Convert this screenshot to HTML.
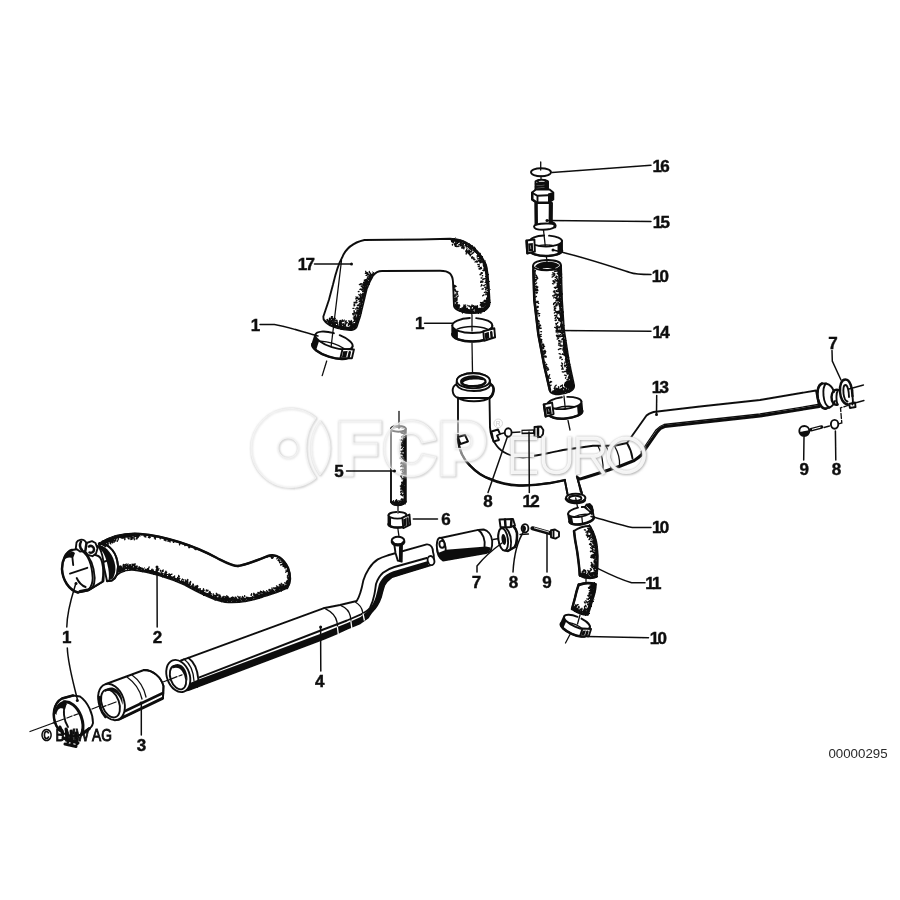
<!DOCTYPE html>
<html><head><meta charset="utf-8">
<style>
html,body{margin:0;padding:0;background:#fff;}
body{width:900px;height:900px;overflow:hidden;font-family:"Liberation Sans",sans-serif;}
svg{display:block;will-change:transform;}
.o{fill:#fff;stroke:#111;stroke-width:1.9;stroke-linejoin:round;stroke-linecap:round;}
.n{fill:none;stroke:#111;stroke-width:1.9;stroke-linejoin:round;stroke-linecap:round;}
.t{fill:none;stroke:#111;stroke-width:1.3;stroke-linecap:round;}
.k{fill:none;stroke:#111;stroke-width:3;stroke-linejoin:round;stroke-linecap:round;}
.k2{fill:none;stroke:#111;stroke-width:2.5;stroke-linejoin:round;stroke-linecap:round;}
.s{fill:none;stroke:#111;stroke-width:2.4;stroke-dasharray:1.2 1.6;}
.b{fill:#111;stroke:none;}
.l{fill:none;stroke:#111;stroke-width:1.5;stroke-linecap:round;}
.lb{font-family:"Liberation Sans",sans-serif;font-weight:bold;font-size:17px;fill:#111;stroke:#111;stroke-width:0.45;text-anchor:middle;}
</style></head><body>
<svg width="900" height="900" viewBox="0 0 900 900">
<defs>
<filter id="rough" x="-5%" y="-5%" width="110%" height="110%"><feTurbulence type="fractalNoise" baseFrequency="0.55" numOctaves="2" seed="3" result="n"/><feDisplacementMap in="SourceGraphic" in2="n" scale="3.2" xChannelSelector="R" yChannelSelector="G"/></filter>
<filter id="soft" x="0" y="0" width="100%" height="100%" filterUnits="userSpaceOnUse"><feGaussianBlur stdDeviation="0.55"/></filter>
</defs>
<rect width="900" height="900" fill="#fff"/>
<g filter="url(#soft)">
<!-- 10_lowerleft -->
<!-- axis line through ring clamp / sleeve 3 / pipe 4 -->
<path class="t" d="M30,731.500 L64,719 M67,718 L72,716 M74,715.300 L79,713.500 M92,709 L110,702 M112,701 L116,699.500 M163,682 L172,678.500 M174,677.500 L178,676"/>
<!-- hose 2 -->
<path class="o" d="M99,544 C110,537 125,533 140,534 C165,536 195,546 217,558 C225,562 232,566 238,566 C246,565 258,560 268,556 C277,553 284,560 288,568 C291,576 291,582 287,588 C280,592 270,594 262,597 C250,601 235,603 225,602 C212,600 198,592 185,585 C170,578 150,572 135,570 C125,569 117,573 112,580 Z"/>
<path class="k2" d="M99,544 C110,537 125,533 140,534 C165,536 195,546 217,558 C225,562 232,566 238,566"/>
<path class="k2" d="M238,566 C246,565 258,560 268,556 C277,553 284,560 288,568 C291,576 291,582 287,588"/>
<!-- hose end face -->
<path class="o" d="M99.500,543 C110,544 117,553 118,566 C118.500,573 116,578 112,580.500 L107,581 L100,549 Z" stroke="none"/>
<path class="n" d="M99.500,543 C110,544 117,553 118,566 C118.500,573 116,578 112,580.500 L107,581.200"/>
<path class="b" d="M99.800,545 C107,547 113.800,555 115.300,566 C115.800,571 114.800,575 112.800,578.500 L108.500,580.500 C109.500,575 108.500,569 107.500,565 C106,557 103,551 99.800,549 Z"/>
<!-- sleeve + clamp 1 (on hose 2) -->
<path class="o" d="M72,550 L98,546 C103,552 105,566 103.500,581 L88,590.500 L78,592.500 C69,590 62.500,580 62,569 C62,560 66,552 72,550 Z"/>
<path class="n" d="M103.300,562 L108.700,560.200" stroke-width="1.200"/>
<path class="k" d="M80,591.500 L88.500,589.800 L102.500,581.300" stroke-width="4.200"/>
<path class="k2" d="M72,550 C66,552 62,560 62,569 C62.500,580 69,590 78,592.500"/>
<path class="b" d="M64,560 C65,555 69,551.500 73,551.500 L75,553 L73,558.500 C70,556.500 66,557.500 64,560 Z"/>
<path class="n" d="M72.500,558.500 L73.200,565" stroke-width="1.300"/>
<path class="n" d="M70,573.600 L87.300,567.800" stroke-width="1.200"/>
<path class="n" d="M76.700,578 C78.500,582 81.500,585.500 85.600,587" stroke-width="1.200"/>
<!-- band -->
<path class="o" d="M82,551 C88,555 92,565 92.700,578 C92.700,583 91,587 88.500,590 L102.400,581.500 C103.500,575 103.500,568 102,562 C101,558 99,556 97,555.500 Z"/>
<path class="n" d="M84.500,552.500 C90,557 94,566 94.700,578 C94.700,582 94,585 92.500,587.500" stroke-width="1.200"/>
<!-- clamp screw -->
<path class="o" d="M75.800,548.500 L76.500,542.500 C78,539.500 82,539 84.500,540.500 L86.500,543 L92,541.200 L95.500,543 L97.500,548.500 L96,553.500 L92.500,556.200 L88,555 L85,551 L80,551.500 Z" stroke-width="2.200"/>
<path class="k2" d="M81,541.500 C79.500,544.500 80,548 82,550 M86.500,543 L85.500,550 M89,546.500 C91,545 94,546.500 94,549.500 C94,552 91.500,553.500 89.500,552.500"/>
<!-- ring clamp 1 (lower) -->
<path class="o" d="M62,698.500 L73,695.500 L80,696.500 C88,702 93,714 93,723 C92,727 90.500,728 89,728.500 L80,735 C72,738 62,735 56.500,726 C51.500,716 53.500,703 62,698.500 Z" stroke-width="1.300"/>
<path class="k2" d="M73,695.500 L62,698.500 C53.500,703 51.500,716 56.500,726 C57.500,728 59,730 60.500,731"/>
<path class="b" d="M54.300,713 C55,706 59.500,701 65.500,700.500 L67,704.500 L65,705 L64.300,709.500 C62,707.500 59.500,708 58,710 C57,711.500 56.500,713 56.500,715 Z"/>
<path class="k" d="M64,701.800 C70,701 77,706 81,716 C83.500,723 83.500,729 82,733.500" stroke-width="2.600"/>
<path class="n" d="M65.500,704.500 C62.800,710 63.500,720 68,727"/>
<path class="k" d="M81,735 L89.500,728.500"/>
<path class="k" d="M60,727 L63,734 M66,729 L68,742 M71,731 L72,745 M76,733 L77,744 M63,738 L78,743 M65,744 L76,746.500" stroke-width="2.400"/>
<path class="t" d="M53,723 L64,719 M67,718 L72,716 M74,715.300 L79,713.500"/>
<!-- sleeve 3 -->
<path class="o" d="M106,684 L144,670 C153,670 161,677 163.500,686 L163,698 L118,720 Z"/>
<path class="k" d="M119.500,719 L162.500,698.300" stroke-width="4.400"/>
<path class="k2" d="M122,712.500 L163,693" stroke-width="1.600"/>
<ellipse class="o" cx="111.500" cy="702" rx="12.500" ry="18.800" transform="rotate(-20 111.500 702)" stroke-width="2"/>
<ellipse class="n" cx="110.500" cy="703.500" rx="8.600" ry="14.500" transform="rotate(-20 110.500 703.500)"/>
<path class="b" d="M105,690.500 C109,685.500 117,687 120.500,694 C122.500,698 123,702 122.500,705 C121,699 118,693.500 113,691.500 C110,690.300 107,690.800 105,692 Z"/>
<path class="k2" d="M100,697 C98.500,704 100.500,712 105.500,717"/>
<path class="n" d="M144,670 C153,670 161,677 163.500,686 L163,698"/>
<path class="t" d="M127,677 C134,682 140,690 142,699 M132,675 C139,680 144,688 146,697"/>
<path class="t" d="M100,708 L106,705.700 M108,705 L116,702"/>
<!-- pipe 4 -->
<path class="o" d="M181,660.500 L188.300,657.800 L323.300,608.300 L340,605 L356.700,601 C360,596 361.500,590 363.300,580.600 C365.500,573 371,563.500 377.800,559.400 C382,557 386,556 389,555 L426.700,544.400 C431,544 433,548 433,552 C434.500,556 434.500,562 431,565 L427.800,566 L405.600,572.800 L392,577 C388,580 386,582 384.400,585 C383,589 382,593 381,597 C379,603 376,608 372,611.700 C370,614 369,616 367.800,617.800 L360,623.300 L347.800,628.500 L339,632.500 L323.300,639 L188.300,690 L182,691 Z"/>
<!-- black band along the bottom -->
<path class="b" d="M186,691.200 L188.300,690.500 L323.300,639.300 L339,632.800 L347.800,628.800 L360,623.600 L368.200,618 C369.200,616.200 370.200,614.200 372.300,612 C376.300,608.200 379.300,603.200 381.400,597.200 C382.400,593.200 383.400,589.200 384.800,585.200 C386.400,582.200 388.200,580.200 392.200,577.400 L405.700,573.200 L428,566.400 L428,561 L400,569.200 C396,570.200 390.500,572 386.700,574.400 C383,577 380.500,580.500 379,584 C377.500,589.500 376.500,595.500 374.400,600.600 C372,606 369,610 365.600,612.800 L360.500,617 L347.300,623 L338.500,626.500 L323.300,632.700 L196,680.500 L190,683 Z"/>
<path class="n" d="M199.400,677.300 L323.300,629.500 L338,624 L347,620.500 L361,614.400 C365,612.500 368,610.500 370,607.800 C372.500,603 373.500,599 374.400,594.400 C375.300,590 375.500,587 376,584 C377.500,579.500 380,575.500 383,572.800 C386.500,570 390,568.300 394.400,567 L426.700,558" stroke-width="1.100"/>
<ellipse class="o" cx="178.300" cy="676" rx="11.300" ry="16.600" transform="rotate(-20 178.300 676)" stroke-width="2"/>
<ellipse class="n" cx="178" cy="677.500" rx="7.500" ry="12.300" transform="rotate(-20 178 677.500)"/>
<path class="b" d="M172.500,666.500 C176,662 182.500,663.500 185.500,670 C187.300,674 187.700,678 187.300,681 C186,675.500 183.500,670.500 179.500,668.500 C177,667.300 174.500,667.500 172.500,668.500 Z"/>
<path class="t" d="M169,679.800 L177,676.700 M179,676 L182,674.800"/>
<path class="n" d="M188.300,657.800 C194,662 197.500,670 198.300,679 C198.500,682 198,685 197,687"/>
<path class="t" d="M184,659 C190,663.500 193.500,672 194,681"/>
<path class="t" d="M325.600,608.900 C332,612 336,617 337,622 C337.800,626 337.800,629 337.500,632 M341,605.600 C346.500,608 349.500,612 350.300,616 C351,619.500 351,622 351,625 M355.600,602.200 C359.500,604.500 361.800,608 362.500,611.500 C363,613.500 363.300,615 363.300,617"/>
<!-- white notches --><path d="M337.300,626.500 L338.600,636.500 M350.800,620.500 L352,629.500 M363,613.500 L364.400,620.500" fill="none" stroke="#fff" stroke-width="1.300"/>
<ellipse class="o" cx="431" cy="560.600" rx="3.300" ry="4.600" transform="rotate(-14 431 560.600)"/>
<!-- nipple on pipe 4 -->
<path class="o" d="M394.400,545 L395.500,553 L397.800,560.600 L401.700,561.700 L402,545 Z"/>
<path class="k" d="M400.500,547 L400.400,560.500" stroke-width="2.600"/>
<ellipse class="o" cx="398" cy="540.600" rx="6.300" ry="3.800" stroke-width="2.200"/>
<path class="k" d="M392.200,542 C393.500,546 402.500,546 403.900,542"/>
<path class="t" d="M397.800,528 L399,536.700"/>
<path class="t" d="M398,505 L398,513"/>
<!-- tube 5 -->
<path class="o" d="M391,428.800 L391,502 C393,506 403,506 405.800,502 L405.800,428.800 Z" stroke-width="2.100"/>
<ellipse class="o" cx="398.400" cy="428.800" rx="7.400" ry="2.900" stroke-width="2.100"/>
<path class="b" d="M392.500,428.800 C394,426.800 402,426.800 404.300,428.800 C402,427.800 394.500,427.800 392.500,428.800 Z" stroke="#111" stroke-width="1.200"/>
<path class="k2" d="M391.300,501.500 C394,506 403,506 405.500,501.500"/>
<path class="t" d="M399,411.500 L399,428.500"/>
<!-- hose stub 7 -->
<path class="o" d="M441.700,537.700 L478.200,529.900 L483.700,529.500 C488,530.500 491.500,535 492.200,540.800 C492.500,545 492,548 490.700,550.500 C489.500,552 488,552.500 486,553 L443,560.500 C439,558 437,552 437,547 C437,542 439,538.500 441.700,537.700 Z"/>
<path class="b" d="M440,552 L446,549.800 L486,546.500 L490.500,547.500 C490.500,550 489.500,552 486.500,553.200 L443.500,560.800 C441,559 440,556 440,552 Z"/>
<path class="n" d="M478.200,529.900 C483,533 485.500,540 484.500,547"/>
<ellipse class="o" cx="441.300" cy="548" rx="4.300" ry="10.400" transform="rotate(-8 441.300 548)"/>
<path class="b" d="M438,553 C439,557 441,559.500 443.500,560.500 L445.500,557 L445.500,550 Z"/>
<ellipse class="o" cx="442" cy="544.300" rx="2.600" ry="3.500" transform="rotate(-8 442 544.300)" stroke-width="1.500"/>
<!-- clamp 7 -->
<path class="t" d="M493,539.500 L499,538.500"/>
<path class="o" d="M502.300,528.300 L510.900,523.700 C515,527 517.500,532 517,536 C517,541 516,545 514.800,547 L507.800,551 C503,551.500 499,546 498.400,538.400 C498,533 500,529.500 502.300,528.300 Z" stroke-width="2.200"/>
<ellipse class="o" cx="503.200" cy="539.400" rx="4.700" ry="11.200" transform="rotate(-8 503.200 539.400)" stroke-width="2.200"/>
<ellipse class="b" cx="503.800" cy="539.500" rx="2.300" ry="5.500" transform="rotate(-8 503.800 539.500)"/>
<path class="n" d="M506,528 C510,532 512,540 510.500,549"/>
<path class="k2" d="M510.900,523.700 C515,527 517.500,532 517,536 C517,541 516,545 514.800,547 L507.800,551"/>
<path class="o" d="M499.500,519.500 L513,519 L515,525.500 L510,527.200 L500.500,527 Z" stroke-width="2.200"/>
<path class="k2" d="M505,519.500 L505.500,526.500 M511.500,519.300 L511,526.500"/>
<!-- washer 8 -->
<ellipse class="o" cx="525" cy="528.300" rx="3.400" ry="4.200" stroke-width="2.800"/>
<path class="b" d="M522,525.500 C524,524.500 526,526 526,528.500 C526,531 524,532.500 522.500,531.500 Z"/>
<path class="t" d="M520,534.500 L528.500,534"/>
<!-- bolt 9 -->
<path d="M532.500,528.300 L550.500,533.300" fill="none" stroke="#111" stroke-width="4.200" stroke-linecap="round"/>
<path d="M534,527.800 L549,532" fill="none" stroke="#fff" stroke-width="0.800"/>
<path class="o" d="M551,530.200 L555,529.500 L559,532 L559,536.500 L555.500,538.600 L551,537.300 Z" stroke-width="2.200"/>
<path class="n" d="M553.500,530 L553.500,538"/>

<!-- 12_hose2shade -->
<!-- hose 2 shading -->
<path class="k" stroke-width="4.2" d="M286.3,586.7 L284.5,587.6 L282.7,588.5 L280.7,589.3 L278.7,590.0 L276.6,590.8 L274.4,591.4 L272.2,592.1 L270.0,592.8 L267.9,593.5 L265.7,594.1 L263.5,594.9 L261.5,595.6 L258.5,596.5 L255.4,597.4 L252.2,598.1 L249.0,598.8 L245.8,599.4 L242.5,599.9 L239.4,600.3 L236.3,600.5 L233.3,600.7 L230.4,600.8 L227.7,600.7 L225.2,600.5 L222.1,599.9 L218.8,599.1 L215.6,598.1 L212.3,596.9 L209.0,595.5 L205.6,594.0 L202.3,592.4 L198.9,590.7 L195.6,589.0 L192.3,587.2 L189.0,585.4 L185.7,583.7 L181.7,581.9 L177.7,580.2 L173.5,578.6 L169.2,577.0 L164.8,575.6 L160.4,574.2 L156.0,572.9 L151.7,571.8 L147.4,570.7 L143.2,569.8 L139.1,569.1 L135.2,568.5 L133.4,568.4 L131.7,568.3 L130.1,568.3 L128.5,568.4 L127.0,568.6 L125.6,568.8 L124.2,569.1 L122.9,569.5 L121.6,570.0 L120.5,570.5 L119.3,571.1 L118.2,571.7" filter="url(#rough)"/>
<path d="M221.2,599.1l-0.5,-0.8M239.5,598.9l-0.7,-1.0M157.9,569.1l-0.9,-1.4M232.9,600.5l-0.3,-0.5M280.8,588.5l-0.1,-0.6M202.0,592.6l0.2,-1.6M261.9,595.6l0.3,-1.2M121.5,567.5l0.2,-0.6M281.9,586.6l0.1,-0.5M207.2,590.9l0.8,-0.2M284.0,585.6l0.2,-0.5M121.6,567.8l-1.1,-1.3M118.9,567.9l-0.4,-1.2M123.3,568.9l-0.2,-0.9M139.3,568.1l0.5,-0.6M152.0,571.3l0.0,-1.5M129.4,565.3l0.4,-0.6M282.6,588.0l-0.8,-1.5M169.6,577.0l1.1,-0.7M209.2,594.0l-0.5,-1.0M120.5,569.8l0.2,-1.3M265.0,592.7l-1.0,-0.9M276.3,590.9l-0.1,-0.7M119.4,567.2l0.0,-1.0M269.6,590.0l-0.6,-0.6M148.8,568.0l0.3,-1.0M120.7,569.5l-1.4,-0.8M277.2,588.7l-0.8,-0.8M164.3,575.4l0.7,-0.6M123.5,569.6l0.5,-0.8M179.1,578.7l0.8,-0.3M132.2,567.0l0.2,-0.5M196.6,587.1l1.2,-0.7M262.2,595.2l-1.3,-0.9M282.5,586.4l-0.5,-0.3M232.7,598.7l0.9,-1.1M226.0,599.7l-0.5,-0.7M276.0,588.3l-0.7,-0.5M258.7,596.7l0.6,-1.4M280.5,585.4l-1.2,-0.9M227.3,597.1l-0.6,-1.3M219.6,597.9l0.7,-0.9M146.6,570.4l0.3,-0.4M278.3,589.6l-0.7,-0.4M243.3,599.3l0.6,-1.1M120.7,568.3l0.1,-1.3M129.1,567.4l0.9,-0.9M258.3,596.2l-0.6,-0.9M195.5,587.4l-0.5,-1.2M139.3,568.9l-0.3,-1.1M121.7,567.2l-1.5,-0.6M132.6,564.8l-0.6,-0.6M223.1,599.4l1.0,-0.7M125.8,565.5l-0.1,-1.0M225.3,598.4l-0.3,-1.5M263.3,592.7l0.1,-1.7M241.9,598.7l0.5,-0.6M155.5,573.0l-0.4,-1.4M121.9,569.1l0.5,-0.8M199.7,590.5l0.4,-0.5M264.7,594.0l0.5,-1.6M236.9,600.4l0.5,-1.3M255.9,596.8l-0.1,-1.1M226.9,599.6l0.5,-1.2M272.9,592.1l0.3,-1.0M202.7,590.3l0.8,-0.4M238.6,599.9l0.5,-0.5M165.7,572.4l0.2,-1.3M276.1,589.1l-0.1,-0.6M219.2,597.6l0.2,-1.4M257.6,595.9l-0.6,-0.8M120.4,569.1l-1.1,-0.9M258.2,593.6l0.7,-1.1M232.3,599.2l1.1,-1.1M174.0,577.2l0.6,-1.2M210.1,594.4l1.1,-0.3M259.3,596.4l-0.8,-1.2M169.4,575.5l-0.4,-1.6M233.8,599.9l0.9,-0.8M213.7,595.9l1.4,-0.8M189.6,583.4l0.8,-1.5M218.6,599.3l0.5,-1.6M257.7,594.7l-1.2,-0.6M223.3,597.4l-0.4,-0.6M280.9,587.9l0.1,-1.2M129.3,567.9l0.9,-1.2M119.3,570.1l0.2,-0.5M202.5,590.7l0.8,-0.5M118.6,571.3l-0.7,-0.5M147.2,569.1l0.4,-0.5M169.4,576.7l0.5,-1.6M202.2,592.5l0.1,-0.7M209.6,593.5l-0.2,-1.1M280.9,588.5l-0.7,-1.1M210.4,592.9l-0.6,-1.3M215.7,598.2l0.0,-1.5M185.8,581.3l-0.1,-1.3M120.7,569.0l-0.0,-1.7M147.5,570.2l1.0,-1.0M230.7,600.7l0.5,-0.5M132.9,565.3l-0.4,-0.9M133.8,567.9l1.0,-1.3M218.7,597.8l0.2,-0.8M127.7,566.4l0.1,-0.6M269.2,590.7l-0.2,-0.5M146.6,570.5l-0.0,-0.6M240.1,600.1l-1.2,-1.1M164.1,575.3l0.5,-1.2M246.3,597.8l0.2,-0.6M120.7,569.8l-0.8,-0.8M123.5,567.2l0.2,-1.2M219.2,596.2l0.7,-0.7M124.4,565.2l0.4,-0.5M119.5,569.5l-1.2,-0.5M187.6,580.6l0.1,-1.1M220.1,595.8l0.0,-0.6M243.2,597.5l-0.4,-0.8M196.1,588.6l1.5,-0.4M206.9,591.0l-0.1,-0.7M260.8,594.3l-1.1,-0.8M118.8,571.4l-0.5,-0.8M217.0,594.4l-0.7,-1.1M208.9,595.7l1.1,-1.1M281.3,586.3l-1.2,-1.1M157.9,569.7l1.1,-1.0M253.8,595.2l-0.1,-1.2M162.0,570.8l1.3,-0.8M222.4,598.6l0.1,-0.7M284.9,588.0l-1.1,-0.8M260.3,592.5l0.2,-1.3M208.8,593.8l0.7,-0.7M125.6,567.1l-0.1,-0.7M118.2,569.7l0.0,-1.0M168.7,576.6l-0.2,-0.5M283.0,586.0l0.1,-0.8M164.9,573.9l-0.0,-0.6M261.9,592.4l-0.3,-0.8M222.5,599.4l0.4,-0.8M160.5,571.2l-0.1,-0.9M227.8,598.8l0.5,-0.4M207.8,590.7l0.1,-0.6M278.9,587.9l0.2,-1.7M277.5,586.7l-1.0,-0.8M152.1,571.2l1.3,-0.9M261.7,594.9l-1.2,-1.1M239.2,597.7l0.9,-1.0M225.1,597.6l0.2,-0.6M223.6,596.8l0.3,-0.5M161.2,573.1l0.3,-0.5M280.4,586.7l0.3,-0.8M120.6,570.4l-0.7,-0.3M195.1,589.2l0.2,-1.4M276.8,589.9l-0.4,-0.7M215.4,597.8l0.9,-1.2M264.3,594.6l-0.4,-0.6M273.1,590.3l-0.6,-0.8M222.1,599.6l0.6,-0.7M251.5,595.1l-0.1,-0.7M224.9,598.5l0.5,-0.5M131.7,567.2l0.3,-1.2M181.8,580.2l0.7,-1.2M155.8,573.0l0.2,-0.9M192.2,587.2l0.1,-1.4M206.2,590.8l0.1,-0.8M230.8,600.2l-0.2,-0.8M239.7,599.4l0.0,-0.7M126.0,567.4l-0.4,-0.7M266.0,593.9l0.3,-0.6M123.4,568.0l0.1,-1.4M219.5,598.9l0.6,-0.5M128.8,567.9l-0.2,-1.3M236.9,599.7l-0.3,-0.8M162.0,571.9l1.2,-0.7M135.1,567.6l0.2,-1.0M132.3,568.3l0.5,-0.4M132.4,568.2l-0.1,-0.8M253.0,597.9l-0.5,-1.2M272.0,590.4l-0.6,-0.5M127.8,567.5l-0.3,-1.4M208.9,594.1l0.9,-1.4M210.0,594.8l0.9,-1.3M235.3,600.0l-0.7,-1.5M263.1,594.8l-1.0,-0.7M236.0,600.6l-0.3,-0.9M123.7,568.9l-0.4,-1.5M238.4,597.2l-0.6,-0.9M196.7,586.5l1.3,-0.3M196.5,586.1l0.9,-0.6M240.0,599.2l-0.1,-0.5M255.4,596.7l-1.2,-1.0M193.0,585.7l-0.2,-1.4M277.8,588.6l-1.3,-0.8M122.2,568.9l-1.2,-1.1M242.4,596.9l0.0,-0.5M251.5,594.6l0.1,-0.8M121.8,567.8l-0.5,-0.3M228.3,598.3l-0.2,-0.7M225.5,599.0l0.1,-1.6M261.8,594.9l-0.0,-0.6M215.3,597.3l0.5,-1.5M202.6,591.9l-0.1,-0.6M261.5,595.0l0.0,-0.8M224.8,599.9l1.3,-0.9M225.9,599.7l-0.2,-1.3M283.0,588.2l-0.5,-0.2M156.9,571.2l1.3,-0.8M124.9,567.0l-0.2,-0.7M119.8,568.9l-0.6,-0.7M117.8,569.8l-0.5,-1.6M254.7,594.5l-1.0,-1.2M120.2,567.5l-0.9,-1.2M125.8,564.9l0.5,-0.9M199.8,588.7l0.5,-0.1M216.0,598.1l-0.4,-1.4M177.0,579.5l0.6,-0.3M263.8,594.7l-0.8,-0.4M179.3,576.8l-0.6,-1.4M142.6,569.8l0.4,-0.3M233.3,600.4l0.8,-1.2M156.2,571.2l0.0,-1.1M246.3,598.4l0.2,-0.5M221.8,597.9l1.1,-1.0M201.5,592.3l-0.5,-1.6M216.3,597.2l-0.5,-0.9M203.7,590.8l0.5,-0.6M189.8,583.0l0.2,-0.7M235.8,600.4l1.0,-1.0M123.3,567.1l0.0,-1.0M258.1,594.1l-0.2,-1.6M255.9,596.3l-0.6,-0.9M187.3,580.3l0.6,-0.6M193.4,584.8l-0.1,-0.6M281.2,585.0l0.1,-1.7M120.2,569.4l0.0,-0.7M165.8,574.5l-0.3,-0.5M256.0,596.7l0.1,-0.5M126.6,568.4l-0.0,-0.9M157.3,569.3l0.5,-0.6M123.5,567.0l-0.1,-0.6M217.4,595.7l-0.3,-1.6M272.1,588.9l-0.1,-1.0M187.3,581.3l0.5,-1.1M195.9,588.7l0.2,-1.3M133.7,564.9l0.3,-0.9M254.3,595.7l0.3,-0.4M133.6,565.5l-1.0,-1.0M125.4,568.1l0.3,-0.5M236.0,598.1l-0.9,-0.8M270.3,591.3l-0.6,-1.0M119.7,570.5l-0.5,-0.9M129.2,567.1l-0.7,-0.7M233.8,597.9l-1.1,-0.9M124.7,566.8l-0.1,-0.7M186.6,582.3l0.5,-0.7M235.5,600.2l0.4,-1.3M151.4,570.3l0.7,-1.2M270.7,590.1l-1.0,-0.6M189.4,585.3l1.0,-0.4M215.4,598.2l-0.4,-0.9M277.3,588.4l-0.2,-0.9M187.0,582.7l1.1,-0.6M281.0,589.2l0.2,-1.6M228.5,600.6l-0.0,-1.1M275.9,590.9l0.2,-0.9M226.0,597.9l0.7,-0.6M238.9,599.1l0.5,-1.6M280.2,589.1l-1.0,-0.5M170.3,575.9l-0.1,-0.7M121.1,570.4l0.4,-1.3M233.9,599.5l-0.7,-0.5M267.1,593.5l-0.7,-0.3M205.7,593.7l0.4,-0.5M120.6,569.8l-1.0,-0.4M136.2,567.2l1.2,-1.1M265.4,592.1l-0.7,-0.3M283.4,584.7l-0.7,-0.4M165.1,575.3l-0.2,-0.6M230.1,599.7l-0.6,-1.4M130.8,567.6l0.7,-1.1M192.4,587.1l0.8,-1.3M248.0,598.5l-0.2,-1.2M119.3,567.8l-0.9,-0.3M226.4,598.1l-0.8,-1.1M178.3,580.1l0.1,-1.5M122.7,568.7l-1.4,-0.5M190.0,583.2l0.0,-0.7M164.4,574.7l0.7,-1.2M254.2,595.6l0.0,-1.3M170.6,574.7l1.4,-0.6M230.8,599.6l0.1,-1.1M147.9,570.6l0.7,-0.7M236.4,598.0l-0.6,-0.9M227.5,598.2l0.9,-1.0M201.6,592.3l1.3,-0.5M190.6,582.4l-0.0,-0.9M219.9,597.4l0.9,-0.6M122.2,568.4l-0.5,-0.7M193.1,584.8l-0.1,-0.8M254.6,594.9l-0.8,-1.3M199.9,590.2l0.1,-1.0M280.6,585.3l-0.3,-0.4M254.6,594.7l0.2,-0.5M178.0,579.5l0.2,-0.8M209.8,593.0l0.1,-1.6M173.7,577.4l0.7,-0.4M183.3,580.0l0.6,-0.2M134.6,566.5l-0.4,-0.6M199.9,590.3l0.4,-1.1M142.7,569.7l-0.3,-0.5M121.4,567.1l-0.7,-1.2M267.7,592.9l-0.2,-0.5M249.1,598.6l-1.0,-1.1M275.1,588.4l-1.3,-0.6M258.5,596.4l-0.2,-1.3M280.1,588.8l-1.3,-0.9M216.8,595.1l0.6,-0.8M283.5,586.4l-0.7,-1.2M240.2,600.0l-0.7,-1.3M169.4,575.2l0.0,-1.3M169.0,576.6l0.7,-0.4M120.5,569.8l0.1,-1.5M202.1,591.9l0.4,-0.8M209.7,592.4l-0.3,-0.6M166.4,573.1l0.2,-1.0M164.3,574.9l-0.4,-1.0M251.0,595.1l0.7,-1.3M281.0,588.9l-1.3,-0.5M236.5,600.0l0.3,-0.5M267.2,592.0l-0.5,-1.3M118.6,570.1l-1.5,-0.8M219.8,598.0l-0.1,-0.5M123.1,565.8l0.3,-1.3M129.3,566.4l0.8,-0.9M134.3,567.1l0.5,-1.1M128.6,566.9l0.6,-0.8M274.2,588.7l-0.5,-0.6M130.7,566.1l-0.3,-1.5M146.7,570.5l0.6,-1.4M255.2,596.6l0.4,-1.6M221.9,599.9l0.4,-0.4M283.4,586.7l0.5,-1.3M128.5,567.3l-0.3,-1.6M218.8,595.8l0.1,-1.3M255.9,597.0l0.8,-1.2M231.0,599.7l0.5,-0.6M156.5,570.4l-0.2,-0.9M282.8,586.1l-1.2,-0.3M254.9,597.5l0.5,-1.1M196.7,588.4l0.6,-1.1M136.0,566.6l-0.0,-0.6M164.2,575.5l0.2,-1.0M186.9,581.4l0.7,-0.8M192.9,586.5l0.3,-1.0M273.5,591.3l0.3,-0.6M245.7,598.8l0.8,-1.0M195.4,587.6l-0.1,-1.5M227.8,598.1l-0.1,-1.7M228.2,597.4l-0.6,-0.6M118.6,568.7l-0.6,-1.3M228.3,599.5l0.9,-1.1M263.6,593.6l0.0,-0.8M139.1,568.4l0.3,-1.3M222.6,599.0l0.9,-0.7M127.0,568.4l-0.7,-0.6M215.6,598.3l-0.5,-1.0M251.2,595.4l0.5,-1.2M126.0,565.8l-0.0,-1.7M278.5,588.1l-0.4,-0.6M222.7,599.2l1.5,-0.8M118.5,568.4l-1.3,-0.3M134.7,565.1l0.5,-1.2M216.7,595.1l0.0,-0.6M147.8,569.2l0.6,-0.6M225.9,600.3l1.3,-0.8M172.9,577.8l0.3,-0.8M216.1,595.5l0.9,-0.5M121.1,570.4l-1.3,-0.7M127.7,565.9l-0.5,-0.5M262.2,592.6l-0.7,-0.5M134.9,567.6l0.4,-0.9M205.0,594.2l-0.2,-0.7M276.1,590.0l0.3,-0.8M139.3,567.6l-0.1,-0.9M165.0,573.6l0.1,-1.1M244.8,596.6l-0.2,-0.9M262.7,594.9l-0.1,-0.6M265.0,594.2l-0.1,-1.3M230.7,598.2l0.8,-0.8M267.5,592.5l-0.3,-1.0M169.3,576.5l-0.2,-1.6M189.8,584.0l0.6,-0.2M272.5,590.9l-0.1,-0.5M127.4,565.3l0.7,-1.3M281.7,587.7l-0.7,-1.0M241.4,598.3l-0.4,-0.4M208.8,595.2l1.0,-0.3M135.6,568.5l-0.6,-0.9M260.6,595.6l-0.7,-0.5M203.5,589.4l-0.0,-0.7M219.4,598.0l0.2,-1.0M178.7,577.0l-0.1,-0.6M202.9,592.3l0.5,-0.9M280.7,589.1l0.2,-0.4M272.2,591.6l-0.4,-0.5M231.4,599.1l0.9,-1.2M191.7,586.8l0.3,-1.0M142.7,569.2l-0.8,-1.3M281.1,587.9l0.3,-0.6M270.5,591.6l-0.3,-0.4M118.3,569.4l-0.4,-0.6M281.5,589.1l-0.7,-1.0M279.6,588.7l-1.2,-0.8M129.3,566.6l1.1,-1.2M232.5,599.9l0.1,-1.3M255.5,596.0l-1.2,-0.5M213.3,595.4l-0.1,-1.6M223.1,598.2l-0.5,-0.9M229.8,600.7l-0.1,-1.0M125.8,568.4l0.4,-0.7M196.1,588.7l1.1,-1.2M160.3,574.0l1.5,-0.6M174.3,577.4l0.3,-1.4M177.6,578.9l0.1,-1.5M262.0,595.6l-0.4,-1.2" fill="none" stroke="#111" stroke-width="1.35" stroke-linecap="round"/>

<path class="k" stroke-width="3.2" d="M100.5,544.3 L102.0,543.4 L103.6,542.5 L105.2,541.6 L106.8,540.7 L108.4,540.0 L110.1,539.2 L111.9,538.6 L113.6,537.9 L115.5,537.4 L117.3,536.8 L119.2,536.4 L121.2,536.0 L122.6,535.8 L124.1,535.5 L125.6,535.4 L127.1,535.2 L128.6,535.1 L130.2,535.0 L131.7,534.9 L133.3,534.9 L134.9,534.8 L136.6,534.9 L138.2,534.9 L140.0,535.0" filter="url(#rough)"/>
<path d="M135.4,535.0l-0.4,0.5M130.0,535.1l0.0,0.8M103.2,544.4l0.4,0.9M115.3,539.8l-0.0,1.3M109.0,540.6l0.2,0.9M122.1,537.6l1.0,0.6M122.2,535.8l-0.2,1.6M111.8,540.8l-0.3,0.8M114.4,540.8l-0.4,1.4M120.8,536.1l0.5,1.2M110.2,540.6l0.8,0.3M138.5,536.4l-0.7,1.2M104.8,545.2l1.0,1.3M138.5,535.5l-0.2,1.6M116.0,537.5l0.2,1.4M131.2,535.7l-0.7,0.9M104.5,545.4l0.8,1.0M123.8,536.5l1.2,1.2M102.5,544.7l1.2,0.7M119.1,536.5l1.3,1.0M117.0,540.8l0.3,0.5M134.3,536.1l0.5,0.5M129.1,538.4l-0.1,0.6M116.9,537.2l0.4,0.5M106.9,545.2l1.2,0.4M111.0,539.7l0.3,0.7M137.8,535.2l-0.2,1.3M128.2,536.2l0.1,0.5M130.9,535.2l0.5,0.6M118.7,536.4l-0.3,0.7M131.3,536.5l-0.6,0.8M136.4,535.9l0.4,1.3M134.7,534.9l-0.7,1.4M111.7,540.1l0.9,0.5M106.3,542.4l0.6,0.1M104.7,546.1l0.4,0.6M113.7,541.6l0.1,0.5M126.1,535.8l0.6,1.3M126.7,535.3l0.2,1.2M119.4,536.4l-0.6,1.4M128.0,535.1l-0.5,1.2M108.4,543.8l-0.2,0.5M136.6,536.5l0.3,0.7M113.1,538.3l0.9,0.5M105.4,541.5l0.3,0.5M129.5,535.5l-0.2,1.5M110.6,540.3l1.4,1.0M129.3,535.1l1.0,0.8M109.3,540.2l0.0,0.7M112.1,540.6l0.3,0.8M103.5,542.7l0.4,0.3M134.2,538.5l0.1,1.3M107.5,540.4l1.0,0.6M131.6,536.4l0.7,0.6M104.7,545.5l0.5,0.3M125.1,539.0l-0.4,0.7M110.4,541.9l0.8,0.4M137.1,537.9l-1.0,1.1M104.6,544.7l0.2,1.0M114.1,538.3l-0.4,0.8M115.7,537.9l-0.0,1.5M102.9,543.8l0.2,1.6M107.2,542.0l1.0,0.2M107.3,541.7l-0.6,1.2M131.2,537.0l-0.0,0.7M136.7,538.2l0.4,0.5M128.5,535.7l-0.5,0.7M124.2,537.4l0.2,0.7M121.9,537.2l0.3,1.0M134.8,535.5l0.6,1.0M110.5,540.9l-0.4,1.2M113.8,540.0l-0.1,0.5M127.8,536.9l0.4,1.5M138.1,537.0l-1.0,0.8M107.4,542.8l0.5,1.2M130.9,535.4l0.5,1.4M131.2,536.6l0.5,1.1M129.5,536.1l0.5,0.5M125.2,535.8l0.2,1.4M134.8,535.2l-0.2,0.7M129.5,535.1l-0.3,0.6M124.3,536.5l-0.0,0.7M130.9,538.3l-0.0,1.2M121.1,536.4l0.4,1.5M131.1,537.6l0.0,0.8M123.1,536.4l0.1,0.7M110.0,543.0l0.8,0.9M105.4,543.3l0.2,0.5M111.9,539.3l0.8,0.3M123.4,536.1l1.0,0.6M120.4,536.2l-0.3,0.4M112.8,538.4l0.4,0.5M131.8,538.4l0.2,0.9M138.9,535.1l-0.5,0.4M118.5,538.4l-0.5,1.6M132.1,537.0l0.9,1.1M134.0,537.5l0.0,0.5M136.6,535.6l0.8,1.3M107.0,541.3l-0.2,1.0M111.9,541.6l0.7,1.3" fill="none" stroke="#111" stroke-width="1.35" stroke-linecap="round"/>

<path d="M145.4,535.4l0.2,0.9M149.9,536.0l-0.4,1.0M185.3,545.3l-0.5,0.3M149.1,536.0l0.4,1.0M188.9,547.1l-0.1,0.6M155.4,537.6l-0.2,1.6M150.3,537.1l-1.0,0.8M189.9,546.6l-0.1,0.9M180.5,542.9l-0.1,0.6M170.0,540.3l0.1,1.7M165.3,539.2l-1.2,0.7M173.8,541.5l0.0,0.6M154.4,537.1l-0.0,1.0M155.7,536.6l0.2,0.6M169.9,539.6l-0.5,1.3M169.3,540.9l-0.4,0.4M195.0,548.4l-0.2,0.8M168.9,540.1l-1.1,1.0M145.8,535.8l-0.4,0.6M174.3,541.8l-0.9,0.6M145.1,535.6l0.8,1.4M149.4,536.2l-1.0,1.0M144.4,535.1l-0.3,0.9M149.7,535.6l-0.6,0.6M189.3,546.0l-0.2,0.6M165.2,539.5l-0.5,0.8M144.8,536.0l0.2,0.8M165.6,539.2l0.4,1.6M179.7,543.8l-0.2,1.1M160.1,538.1l0.2,0.7M195.5,548.2l0.5,1.5" fill="none" stroke="#111" stroke-width="1.35" stroke-linecap="round"/>

<path d="M287.9,571.5l-0.9,-0.1M281.9,560.6l0.1,1.1M286.2,586.1l-0.9,-0.9M284.9,566.6l-0.6,-0.1M286.5,567.2l-0.5,0.2M288.5,574.9l-1.1,0.8M272.9,557.2l0.2,0.5M287.1,582.7l-1.0,0.2M277.7,557.9l-0.9,1.0M271.3,556.2l0.2,1.2M288.5,578.4l-0.5,-0.5M286.1,566.7l-0.9,1.4M287.4,583.7l-1.2,0.2M287.7,580.7l-0.6,-0.2M279.0,559.1l-0.0,1.5M283.9,563.9l-0.7,1.5M288.5,580.8l-1.0,-0.4M284.9,564.3l-0.1,0.8M287.7,584.5l-0.8,-0.5M282.7,563.6l-0.4,1.1M282.2,561.1l-0.2,1.1M286.9,585.7l-0.7,-0.3M289.5,578.0l-0.4,-0.5M286.2,571.4l-0.4,0.9M287.6,583.8l-0.6,0.3M286.1,566.0l-0.7,-0.0M269.5,556.1l0.4,0.4M288.3,570.4l-1.0,0.8M286.0,567.6l-1.2,0.2M271.5,557.6l0.1,0.6M278.7,559.8l-0.7,0.6M289.1,579.8l-0.9,0.4M286.1,583.5l-1.4,-0.7M284.1,566.0l-1.0,0.4M289.1,574.0l-0.8,-0.2M287.2,582.5l-0.8,-0.6M283.5,562.7l-0.6,0.5M270.6,556.2l0.5,0.8M286.3,566.8l-0.6,-0.0M281.2,562.4l-1.6,0.3M287.0,583.6l-0.5,-0.8M283.6,562.0l-0.2,0.6M272.9,555.9l-0.0,1.5M289.1,579.5l-0.7,-0.9M271.0,556.6l0.5,0.4M287.5,581.6l-1.0,0.1M287.6,570.4l-1.7,-0.3M273.3,557.0l-1.0,1.2M282.1,564.4l-1.5,0.6M288.2,580.7l-0.3,-0.7M287.1,585.7l-0.7,-0.0M285.8,566.4l-0.5,0.1M287.9,582.7l-1.4,-0.5M288.0,576.6l-0.7,0.5M284.4,564.6l-0.5,-0.1M280.2,560.8l-1.1,0.7M284.0,562.6l-0.1,1.1M288.7,582.1l-1.5,-0.4M284.0,565.7l-0.2,0.8M288.4,577.8l-0.6,0.6" fill="none" stroke="#111" stroke-width="1.35" stroke-linecap="round"/>

<!-- tube 5 shading -->
<path class="k" stroke-width="2.6" d="M405.1,431.0 L405.1,433.0 L405.1,435.1 L405.1,437.1 L405.1,439.1 L405.1,441.1 L405.1,443.2 L405.1,445.2 L405.1,447.2 L405.1,449.3 L405.1,451.3 L405.1,453.3 L405.1,455.3 L405.1,457.4 L405.1,459.4 L405.1,461.4 L405.1,463.5 L405.1,465.5 L405.1,467.5 L405.1,469.5 L405.1,471.6 L405.1,473.6 L405.1,475.6 L405.1,477.7 L405.1,479.7 L405.1,481.7 L405.1,483.7 L405.1,485.8 L405.1,487.8 L405.1,489.8 L405.1,491.9 L405.1,493.9 L405.1,495.9 L405.1,497.9 L405.1,500.0 L405.1,501.8 L404.5,502.4 L403.7,503.1 L402.7,503.6 L401.7,504.0 L400.6,504.3 L399.4,504.4 L398.3,504.4 L397.2,504.3 L396.1,504.0 L395.1,503.6 L394.2,503.1 L393.4,502.5" filter="url(#rough)"/>
<path d="M402.4,462.9l-1.4,1.0M402.0,466.4l-1.4,0.1M399.1,503.6l-0.3,-0.8M402.3,432.5l-0.9,0.6M404.3,455.2l-1.2,0.9M397.8,504.0l0.2,-1.5M401.7,439.8l-1.5,0.2M403.6,456.2l-0.9,0.9M401.7,457.3l-1.5,0.8M402.5,502.6l-0.9,-1.1M402.4,488.8l-1.6,0.4M404.8,501.4l-1.1,-0.4M396.3,504.1l0.2,-1.2M402.8,500.9l-0.7,-0.8M405.0,501.9l-1.0,0.7M403.7,501.5l-1.1,-0.9M402.2,487.4l-1.4,0.6M397.2,502.3l0.2,-1.1M403.5,469.4l-1.0,-0.2M399.8,502.0l-0.9,-1.4M402.1,483.4l-0.6,0.8M396.4,503.3l0.4,-1.1M405.0,448.0l-0.7,-0.1M404.2,439.8l-0.8,-0.8M402.8,474.5l-0.6,-0.0M402.3,500.8l-0.8,-1.4M402.0,494.9l-1.3,-0.2M402.2,445.6l-0.5,0.0M401.6,453.3l-0.6,0.4M404.3,502.4l-1.4,-0.5M403.6,440.7l-0.5,-0.3M403.2,451.3l-1.4,0.9M404.6,478.3l-0.7,0.2M401.8,494.5l-0.6,-0.3M402.1,454.0l-1.4,-0.1M405.0,435.7l-0.6,-0.6M402.3,499.2l-0.4,-0.4M404.9,474.0l-1.1,-0.2M403.3,436.7l-1.2,-0.1M405.0,436.2l-1.1,-0.1M402.1,475.3l-0.9,1.0M403.8,486.4l-0.9,-1.0M403.3,483.1l-0.9,0.6M402.7,442.8l-1.2,0.0M405.0,446.8l-1.0,-0.3M402.7,471.5l-0.5,-0.3M404.8,487.5l-1.4,-0.8M395.6,501.0l1.1,-0.7M404.9,488.4l-1.2,-0.4M404.6,468.9l-1.1,0.9M403.3,445.1l-0.8,0.9M402.4,444.7l-0.9,-0.5M398.3,503.5l-0.7,-1.5M402.0,437.5l-0.5,-0.6M404.5,458.2l-0.7,0.5M399.3,503.5l0.4,-0.6M404.8,486.3l-0.4,0.5M404.5,502.8l-0.9,-1.0M404.9,433.0l-0.8,0.3M404.0,469.0l-1.3,0.9M404.4,489.5l-1.2,-0.6M399.2,503.0l-0.2,-0.5M402.7,444.9l-1.2,-0.3M403.7,464.2l-0.6,-0.3M403.9,501.0l-0.8,0.0M404.6,483.1l-0.6,0.4M404.9,499.1l-0.9,0.1M401.9,462.3l-1.1,1.0M402.6,473.7l-0.8,-0.2M401.8,457.1l-1.0,-0.7M401.7,477.4l-1.0,-1.1M404.3,501.9l0.0,-1.4M402.8,486.9l-0.7,0.8M405.0,465.2l-1.5,0.6M402.6,503.2l-0.6,-1.3M400.7,504.1l0.4,-1.3M404.6,460.0l-1.1,0.1M404.6,482.5l-1.2,-0.5M403.2,435.9l-1.3,0.6M404.5,443.4l-1.2,0.3M404.9,473.5l-1.4,0.6M404.1,484.9l-0.6,0.2M404.2,441.8l-1.5,0.2M402.2,458.5l-1.3,-0.6M404.3,493.7l-0.5,0.6M398.0,503.8l0.5,-1.5M405.0,469.5l-1.1,-0.4M404.9,482.9l-0.6,0.5M401.3,502.1l-1.0,-1.1M403.5,469.4l-0.6,0.1M404.4,438.9l-0.6,-0.3M404.9,490.3l-1.3,-1.0M402.8,490.1l-0.5,-0.1M396.1,500.5l0.7,-0.4M402.6,458.8l-0.6,0.5M403.2,467.1l-0.5,-0.2M403.5,485.0l-0.9,0.8M396.0,503.0l-0.5,-0.8M404.0,433.6l-1.7,-0.2M405.0,457.6l-0.4,0.4M405.0,476.0l-0.6,0.5M402.8,485.2l-1.1,0.1M403.6,492.0l-0.8,0.1M402.0,491.7l-1.2,-0.5M401.8,486.6l-1.5,-0.6M404.6,440.6l-1.1,-0.0M396.3,502.9l0.4,-1.1M404.3,455.2l-1.4,-0.6M402.1,475.2l-1.2,0.6M403.8,465.0l-0.7,0.7M404.1,488.8l-0.7,-0.3M404.9,441.5l-0.9,0.5M403.6,454.4l-1.3,-0.5M404.2,481.1l-1.2,0.6M404.3,490.4l-0.5,-0.1M395.5,500.9l1.1,-0.8M405.0,450.2l-0.9,-0.7M404.9,463.7l-1.0,-0.3M396.1,503.7l0.6,-0.9M403.0,494.9l-1.3,0.3M401.9,451.4l-0.9,-0.1M401.6,493.6l-0.6,0.4M405.0,471.0l-0.9,-0.5M402.2,500.7l-0.2,-1.2M403.7,442.0l-0.5,-0.6M402.8,478.8l-0.9,-0.0M401.6,499.8l-0.5,-0.4M404.1,490.4l-0.5,0.4M404.3,463.6l-1.4,-0.1M401.8,469.5l-1.2,0.5M404.9,468.6l-0.6,-0.0M404.9,449.5l-0.5,0.6M404.0,443.4l-0.5,0.5M404.0,499.1l-0.9,0.3M399.8,502.9l-0.1,-0.7M405.0,476.0l-0.8,-0.1M402.8,446.2l-1.4,-0.5M404.1,480.5l-0.8,0.3M402.6,502.2l-0.1,-0.7M402.2,466.3l-0.7,-0.7M402.4,451.1l-0.8,0.1M404.1,464.8l-1.0,1.1M404.2,489.7l-1.2,0.4M404.3,432.2l-0.9,-0.3M404.8,448.2l-1.4,0.1M402.4,488.6l-0.9,-0.6M404.9,443.0l-1.5,0.3M402.5,482.7l-0.9,-0.4M397.1,504.3l0.6,-0.8M401.7,456.9l-1.4,0.9M402.0,491.4l-1.4,0.7M404.1,462.6l-0.7,0.7M396.4,500.6l0.0,-0.9M402.4,447.3l-1.0,0.9M405.0,478.4l-1.0,-0.5M404.2,479.3l-1.4,-0.6M404.7,484.5l-0.8,0.0M404.7,440.2l-0.8,0.1M403.8,465.3l-0.8,0.6M403.9,451.5l-1.5,-0.7M404.5,473.2l-1.0,-1.0M396.1,502.7l-0.3,-0.6M403.5,436.4l-0.4,-0.2M402.4,500.7l-0.7,-1.4M401.9,432.7l-1.1,-0.1M403.0,495.8l-0.7,-0.4M404.5,456.5l-0.4,0.5M403.6,487.8l-0.7,0.9M404.9,446.1l-1.6,-0.5M405.0,449.2l-1.3,0.8M395.0,502.3l0.6,-0.6M404.3,469.4l-0.4,-0.3M402.5,440.7l-1.2,-1.2M404.8,493.9l-0.7,-0.2M399.1,502.7l0.9,-1.2M405.0,433.8l-0.8,-0.7M402.5,503.9l0.0,-1.5M403.3,464.7l-0.9,-0.9M403.5,473.6l-0.5,-0.4M402.3,500.4l-1.0,-0.5M394.8,503.7l0.0,-0.7M394.1,502.8l1.0,-0.2M404.8,484.5l-1.4,0.1M398.0,504.3l-0.4,-0.7M399.2,503.0l0.6,-0.5M402.2,503.3l-1.0,-1.2M405.0,477.1l-1.1,-0.5" fill="none" stroke="#111" stroke-width="1.35" stroke-linecap="round"/>


<!-- 15_hoses -->
<!-- hose 17 -->
<path class="o" stroke-width="2.2" d="M323.3,316.7 L328.9,300 L333,284.5 C336,272 339,263 342,257.8 C345,250 351,243 364.4,240 L420,239.5 L450,238.800 C456,238.800 464,241 470,245 C476,249 482,256 486,265 C488,272 489,290 489.500,300 C489.700,303 489.500,305 489,306 C487,309 485,311 482,311.500 C478,313 474,313 470,313 C466,313 463,312.500 460,311 C456,309.500 454.500,308 454,306 L453,282 C452.800,278 452,275.500 450,273.500 C448,271.800 445,270.800 440,270.800 L382,271 C378,271 375,273 373,275.600 C371,279 369,283 366.700,289 L360,316.700 L356.700,326.700 C355,329.500 353,330.300 350,330 C345,329.800 341,329 336.700,327.800 C332,326.500 328,324.500 325.600,322 C323.500,320 323,318.500 323.300,316.700 Z"/>
<path class="k" stroke-width="4.6" d="M372.6,274.0 L371.9,275.0 L371.2,276.1 L370.5,277.1 L369.8,278.2 L369.2,279.3 L368.6,280.5 L368.0,281.7 L367.4,282.9 L366.8,284.2 L366.3,285.5 L365.7,286.9 L365.1,288.5 L364.6,290.6 L364.1,292.6 L363.6,294.5 L363.1,296.5 L362.7,298.5 L362.2,300.5 L361.7,302.5 L361.2,304.4 L360.7,306.4 L360.3,308.4 L359.8,310.4 L359.3,312.3 L358.8,314.3 L358.4,316.2 L357.7,318.2 L357.1,320.2 L356.4,322.2 L355.7,324.2 L355.1,326.1 L354.9,326.4 L354.5,326.8 L354.2,327.2 L353.8,327.5 L353.5,327.8 L353.1,328.0 L352.7,328.1 L352.3,328.2 L351.9,328.3 L351.4,328.4 L350.8,328.4 L350.1,328.3 L348.9,328.2 L347.7,328.2 L346.6,328.1 L345.5,327.9 L344.4,327.8 L343.4,327.6 L342.3,327.4 L341.3,327.2 L340.3,327.0 L339.2,326.7 L338.2,326.4 L337.2,326.2 L336.0,325.8 L335.0,325.5 L333.9,325.1 L332.9,324.7 L332.0,324.3 L331.1,323.8 L330.2,323.4 L329.4,322.9 L328.7,322.4 L328.0,321.9 L327.4,321.4 L326.8,320.8" filter="url(#rough)"/>
<path d="M335.1,320.1l-0.3,-1.0M358.3,314.5l-0.8,-1.2M352.2,328.1l-0.5,-1.2M342.3,321.3l0.6,-0.3M367.1,283.7l-0.5,-0.2M336.5,322.7l0.8,-0.3M363.9,287.0l-1.6,0.4M353.9,325.7l-0.6,-0.1M340.7,327.0l-0.1,-0.5M356.2,319.9l-1.5,-0.8M363.8,284.7l-0.7,-0.6M365.9,272.1l-0.2,-0.8M365.4,282.3l-0.7,-0.3M360.9,297.8l-0.7,-1.5M351.9,322.0l-0.7,-1.6M364.8,290.5l-0.5,-0.0M353.0,326.3l0.7,-1.1M344.8,326.1l0.0,-1.1M343.1,326.7l0.9,-1.2M358.4,314.3l-1.2,-0.6M331.9,321.0l-0.2,-0.5M351.3,324.3l-1.5,-0.6M354.0,308.3l-1.1,0.0M365.0,284.6l-0.4,-0.4M335.1,324.5l-0.5,-1.0M363.4,289.0l-1.3,0.1M359.0,299.7l-0.8,-0.5M369.2,279.4l-0.9,-1.0M366.2,285.9l-1.6,0.1M358.0,297.1l-1.2,0.6M340.6,320.8l-0.0,-0.5M343.7,324.8l-0.8,-1.0M339.5,322.4l0.4,-1.1M363.3,285.6l-0.2,-0.6M361.2,294.8l-0.4,-0.7M352.0,327.9l0.1,-1.4M336.2,323.3l0.1,-0.8M353.3,314.9l-0.5,-0.7M328.9,321.7l-0.1,-0.6M360.1,309.2l-1.3,-0.6M330.5,319.0l1.0,-0.7M368.2,279.1l-0.6,-0.6M367.7,274.8l-0.8,-1.2M357.0,300.6l-0.6,-0.1M345.0,322.0l0.7,-0.8M367.5,272.9l-0.8,-0.1M329.6,319.5l-0.1,-1.4M363.1,287.8l-0.7,-0.8M370.5,274.7l-1.4,0.3M331.7,323.4l-0.2,-1.5M362.3,297.3l-1.6,-0.3M350.4,327.5l0.8,-0.7M348.5,325.5l-0.3,-0.5M365.4,283.4l-1.2,0.4M331.2,323.3l0.2,-1.5M330.1,319.7l0.5,-0.9M357.6,307.9l-0.8,-0.4M356.8,317.9l-0.8,-0.3M339.9,324.1l-0.3,-0.4M339.9,324.5l0.5,-0.4M332.8,322.7l0.4,-0.7M361.1,299.0l-1.6,-0.3M363.5,293.3l-0.6,0.2M370.9,276.4l-0.8,-0.1M352.7,324.8l-0.5,-0.4M351.2,324.8l-0.5,-0.2M357.9,305.8l-0.6,-0.5M361.3,300.9l-1.3,-0.9M351.8,323.0l0.5,-0.6M355.2,325.7l-0.9,0.4M362.0,298.9l-0.6,-0.1M346.3,322.6l-0.4,-1.0M331.4,316.6l1.1,-0.0M331.1,317.7l0.6,-0.2M354.5,304.2l-0.5,0.3M332.7,324.3l0.7,-0.8M355.0,317.6l-0.9,-1.2M333.8,323.0l1.1,-0.5M370.5,275.9l-1.5,0.2M341.5,324.1l-0.2,-0.9M350.1,323.4l-0.6,-1.4M350.0,323.0l0.3,-1.4M359.4,312.3l-0.5,-0.2M366.9,281.6l-0.9,-0.1M356.8,312.7l-1.3,0.2M343.5,321.2l0.8,-1.1M340.3,324.5l0.3,-0.4M350.5,323.1l-1.0,-1.3M361.1,289.0l-1.2,0.3M366.7,279.5l-1.6,0.3M365.6,281.7l-0.7,-0.7M352.5,326.2l-1.0,-0.8M370.2,277.5l-0.7,-0.0M342.7,327.5l-0.2,-1.2M350.5,328.3l-0.8,-0.7M355.4,326.9l-0.5,-1.5M352.7,324.7l-0.4,-1.0M366.9,280.8l-0.6,-0.4M351.5,324.6l-1.4,-0.3M356.3,298.6l-0.6,0.3M330.3,319.6l0.7,-1.1M355.4,312.9l-0.6,0.5M353.5,313.9l-0.8,-0.3M369.0,278.5l-0.6,-0.1M352.1,324.7l-0.6,-0.5M357.5,298.6l-1.5,-0.0M355.0,319.3l-0.4,-0.6M350.3,327.2l-0.2,-0.7M362.5,290.2l-1.0,-0.1M332.0,323.6l0.1,-0.7M362.1,286.0l-0.9,0.3M354.8,321.4l-0.6,0.0M351.9,325.9l-0.3,-0.8M354.5,325.6l-1.2,-0.6M354.8,313.1l-0.7,-0.1M359.2,311.0l-0.4,-0.7M364.9,282.6l-1.3,0.1M364.2,283.0l-0.6,-0.7M359.0,291.5l-0.7,0.1M337.9,325.2l-0.2,-1.1M341.0,325.8l0.2,-0.6M362.3,283.8l-1.5,-0.1M367.7,272.9l-1.5,-0.6M345.4,324.0l0.7,-0.7M354.7,304.3l-0.7,-0.3M351.7,327.2l0.0,-1.4M357.0,302.5l-1.0,-0.1M368.4,278.5l-1.1,-0.4M333.0,321.4l0.7,-0.4M350.6,325.0l-0.1,-1.5M341.9,321.5l0.4,-1.6M354.9,320.9l-1.3,0.7M351.8,324.4l-1.5,-0.5M345.2,325.7l0.5,-1.5M350.0,328.0l-0.3,-0.6M352.9,325.6l-0.1,-0.7M356.7,302.8l-0.8,-1.1M332.8,319.8l0.6,-1.0M366.7,275.4l-0.6,0.0M357.9,318.2l-1.4,0.8M352.2,327.1l-0.4,-1.0M346.2,327.9l-0.4,-1.2M359.9,295.4l-1.0,-0.9M361.7,295.0l-1.1,-1.0M360.2,304.2l-0.7,-0.4M342.7,324.6l0.8,-0.6M351.0,322.6l-0.6,-0.7M364.9,287.8l-0.8,-1.0M356.9,314.1l-0.5,-0.4M354.8,305.5l-0.9,0.3M328.0,321.6l0.9,-1.0M339.6,323.4l-0.2,-0.8M351.8,323.5l-0.6,-0.7M335.2,325.3l-0.4,-1.4M359.9,305.8l-0.8,-0.0M327.3,320.5l0.4,-1.1M355.8,315.7l-0.9,-1.2M331.4,321.0l1.1,-1.2M334.3,319.3l0.2,-0.7M364.4,283.8l-1.7,0.3M361.3,302.0l-1.2,-1.0M346.8,323.0l0.5,-0.3M354.7,312.2l-0.6,0.1M343.7,324.3l0.2,-0.7M369.0,279.3l-0.6,-0.3M353.0,326.0l-1.3,-0.6M360.0,301.3l-0.8,0.4M340.3,322.3l-0.6,-1.4M341.2,322.2l0.9,-1.4M337.5,323.8l0.1,-0.9M337.1,321.7l0.1,-0.9M365.8,283.4l-1.4,0.7M332.8,320.7l0.5,-0.7M349.8,324.5l-1.3,-0.9M339.6,323.6l0.8,-0.6M365.9,284.8l-1.0,0.5M370.7,273.6l-0.5,-0.5M335.8,320.7l1.1,-0.5M368.2,276.8l-0.7,-0.0M334.0,318.8l1.3,-0.4M351.5,323.4l-0.5,-0.5M355.9,316.4l-1.7,-0.0M351.7,324.4l-0.7,-1.4M360.6,300.7l-0.7,-0.7M351.5,328.0l-0.2,-1.4M351.5,323.9l-0.7,-1.4M349.7,321.6l-0.4,-0.6M363.2,288.7l-0.5,0.2M369.6,272.8l-0.3,-1.4M351.0,322.1l0.5,-1.3M355.4,302.9l-1.3,-0.6M329.4,322.1l1.3,-0.9M332.4,319.4l0.3,-1.5M356.6,308.9l-1.0,0.1M350.7,323.5l-0.4,-1.0M329.7,321.1l0.4,-0.4M358.0,312.2l-1.4,-0.3M351.3,323.0l-0.6,-0.4M352.4,324.7l-1.3,0.2M351.1,324.3l-0.6,-0.9M354.3,326.7l-0.2,-1.4M339.4,324.5l1.3,-1.0M361.9,300.9l-0.4,-0.4M361.6,302.4l-1.3,0.9M354.9,324.5l-0.5,-0.9M354.4,324.6l-0.5,-1.1M340.0,323.9l-0.6,-1.0M357.7,310.5l-0.9,0.3M355.4,320.1l-1.4,-0.5M340.5,326.4l-0.6,-0.8M354.4,310.9l-0.6,0.1M346.0,322.1l0.1,-1.4M356.2,319.2l-1.4,-0.9M351.1,323.6l-0.7,-0.5M361.0,284.6l-1.6,-0.1M352.5,326.3l-0.3,-0.6M368.7,279.0l-1.2,-0.6M353.4,326.2l-1.5,-0.3M334.8,323.2l0.5,-0.6M348.7,324.9l0.2,-1.4M366.7,273.1l-1.3,0.2M354.5,318.6l-1.2,-0.7M354.2,327.0l-0.3,-0.5M349.8,327.3l0.9,-1.3M358.7,308.1l-1.2,0.7M359.1,304.6l-0.8,0.4M340.5,326.8l0.3,-0.8M352.2,326.0l0.0,-0.5M345.3,324.9l0.1,-0.7M349.5,322.3l-0.7,-1.5M365.1,280.1l-0.8,0.1M333.8,323.9l0.2,-0.6M351.6,325.8l0.4,-1.2M351.9,323.9l-0.6,-1.0M352.3,325.5l-0.6,0.1M350.9,327.4l0.8,-1.2M341.2,323.4l-0.0,-0.7M332.3,319.0l0.2,-0.9M329.5,321.9l0.4,-0.6M357.3,297.9l-1.3,-0.9M334.5,323.1l0.6,-1.1M330.6,323.4l1.0,-1.1M353.1,325.3l-0.5,-1.4M359.9,298.2l-1.2,0.4M360.6,306.7l-0.5,-0.6M369.1,275.3l-0.9,-1.4M352.4,325.9l-1.6,-0.0M367.2,282.2l-0.6,-0.5M361.2,296.7l-1.0,-1.1" fill="none" stroke="#111" stroke-width="1.35" stroke-linecap="round"/>

<path class="k" stroke-width="3" d="M452.0,239.7 L453.0,239.7 L454.2,239.9 L455.5,240.1 L456.9,240.4 L458.4,240.8 L460.0,241.3 L461.6,241.8 L463.2,242.4 L464.8,243.2 L466.4,243.9 L468.0,244.8 L469.5,245.7 L471.0,246.8 L472.4,247.9 L473.9,249.2 L475.3,250.6 L476.7,252.1 L478.1,253.7 L479.4,255.4 L480.7,257.2 L481.9,259.1 L483.1,261.1 L484.2,263.2 L485.2,265.3 L485.6,267.2 L486.0,269.5 L486.4,272.1 L486.8,275.1 L487.1,278.2 L487.4,281.5 L487.7,284.8 L487.9,288.1 L488.1,291.4 L488.3,294.5 L488.5,297.4 L488.6,300.0 L488.6,300.8 L488.7,301.4 L488.7,302.1 L488.7,302.6 L488.7,303.2 L488.6,303.7 L488.6,304.1 L488.5,304.5 L488.4,304.9 L488.4,305.2 L488.3,305.4 L488.2,305.5 L487.8,306.2 L487.3,306.9 L486.8,307.5 L486.3,308.0 L485.8,308.5 L485.3,309.0 L484.8,309.4 L484.2,309.7 L483.7,310.0 L483.1,310.3 L482.5,310.5 L481.7,310.6 L480.7,311.0 L479.8,311.3 L478.8,311.5 L477.9,311.7 L476.9,311.8 L475.9,311.9 L474.9,312.0 L474.0,312.0 L473.0,312.1 L472.0,312.1 L471.0,312.1 L470.0,312.1 L469.0,312.1 L468.1,312.1 L467.2,312.0 L466.4,311.9 L465.6,311.8 L464.8,311.7 L464.0,311.5 L463.3,311.3 L462.6,311.1 L461.8,310.8 L461.1,310.5 L460.4,310.2" filter="url(#rough)"/>
<path d="M480.4,310.0l-0.9,-0.3M478.9,310.4l-0.4,-1.1M463.5,311.0l1.4,-0.8M485.7,269.2l-0.7,0.7M455.0,245.8l0.5,0.6M481.9,304.4l-0.2,-0.6M463.1,308.6l0.3,-1.1M467.0,246.3l-0.7,0.8M455.3,243.4l-0.9,1.1M483.5,303.2l-0.6,-0.5M485.9,304.3l-0.5,0.0M484.9,309.6l-0.0,-0.6M464.8,311.4l1.1,-0.7M486.4,300.6l-1.1,-0.2M487.5,305.2l-0.9,0.7M481.3,261.5l-1.4,0.0M465.3,311.3l0.6,-0.7M453.4,242.0l-0.1,0.9M480.2,257.9l-1.0,1.1M483.0,281.8l-0.8,0.4M481.9,304.9l-0.1,-1.5M475.7,308.7l-0.2,-1.4M456.4,243.7l-0.6,1.5M487.0,283.9l-1.1,0.5M484.0,294.9l-1.3,0.9M466.5,309.4l0.6,-0.7M476.4,261.0l-1.3,1.0M483.8,303.1l-0.8,-0.1M471.7,309.9l-0.4,-1.2M467.5,311.2l0.9,-1.0M467.0,248.6l-0.4,1.2M484.3,308.5l0.0,-1.0M466.3,310.6l1.4,-0.8M486.7,305.2l-0.8,-0.3M477.8,256.2l-0.7,0.8M486.0,287.3l-1.4,-0.1M485.0,305.3l-0.5,-0.3M487.3,302.3l-1.1,-0.3M488.1,303.2l-0.7,-0.0M482.4,306.1l-0.5,-1.1M465.8,310.4l-0.0,-1.5M486.2,304.8l-0.7,-0.7M482.2,302.7l-1.4,-0.1M469.6,253.2l-0.1,1.5M482.0,303.9l-1.2,-0.9M482.7,275.6l-0.4,0.3M485.5,269.2l-0.7,-0.3M486.1,303.4l-0.9,-0.0M484.2,270.1l-1.4,0.3M462.5,309.6l-0.5,-1.4M455.6,244.3l0.4,1.0M468.8,252.6l-0.5,0.9M463.5,248.0l-0.6,0.2M462.1,246.7l-0.4,1.3M456.4,243.3l-0.4,1.2M486.8,303.8l-0.5,-0.6M465.9,310.3l-0.8,-1.0M479.0,256.2l-1.3,-0.3M486.9,281.2l-1.0,-0.2M465.1,310.2l0.7,-0.8M463.9,308.5l0.6,-0.7M469.0,311.6l0.6,-1.2M481.7,304.1l-0.5,-1.0M478.3,258.6l-0.8,0.3M482.6,302.5l-1.0,0.7M485.5,304.1l-0.6,-0.2M461.7,308.9l0.1,-0.6M467.3,250.9l-0.5,0.3M484.1,309.5l-0.0,-0.7M473.1,252.8l-1.3,1.1M479.4,309.7l-0.9,-1.0M484.9,285.0l-1.2,0.6M487.2,303.3l-1.5,0.5M484.8,304.7l-1.1,-0.8M468.7,310.9l0.4,-0.4M471.8,250.6l-0.9,1.1M475.5,309.8l0.3,-0.6M472.9,306.4l0.5,-0.8M482.2,273.3l-0.8,0.2M483.3,309.4l-1.3,-0.7M461.6,309.8l-0.2,-0.9M468.5,245.2l0.1,1.2M472.0,310.5l0.6,-0.8M484.0,303.8l-1.4,-1.0M485.1,307.7l-0.5,-0.3M458.6,246.2l-0.7,0.4M471.3,254.4l-0.6,0.1M477.2,309.5l-1.3,-0.8M482.1,278.0l-1.0,0.0M484.4,303.8l-0.8,0.3M483.1,309.6l-0.1,-0.9M464.7,309.5l0.2,-1.2M473.7,308.9l-0.2,-1.2M472.9,257.2l-0.9,1.3M481.0,273.8l-1.0,0.7M481.9,303.3l-1.4,-0.8M461.4,244.7l0.5,1.2M484.1,278.8l-0.9,0.7M480.1,260.3l-0.9,1.1M480.7,268.4l-0.7,0.1M481.6,304.3l0.1,-0.8M466.7,245.2l-0.6,0.9M482.9,304.4l-0.3,-1.1M468.1,311.6l-0.1,-0.9M482.7,261.9l-1.4,-0.2M466.6,250.6l-1.0,0.6M476.2,307.3l-0.4,-1.1M474.2,306.8l0.3,-0.6M471.6,306.7l-0.3,-0.5M472.2,256.6l-0.6,1.0M455.9,240.3l-0.6,0.6M481.9,307.3l-0.7,-1.3M488.3,301.3l-1.0,1.2M453.3,240.4l-0.8,1.3M487.8,304.4l-1.2,0.2M481.3,305.5l-0.2,-0.8M471.8,248.5l-1.4,0.7M480.2,309.0l0.1,-0.5M476.5,308.3l-0.5,-0.8M484.9,305.3l-0.5,-0.5M483.1,309.3l-0.5,-0.3M486.5,303.6l-1.3,1.1M463.4,244.6l-0.7,0.7M487.2,299.8l-0.6,-0.1M487.8,296.8l-0.9,1.1M464.1,306.9l-0.4,-0.5M479.0,256.2l-0.9,0.0M483.4,306.6l-0.4,-1.4M479.4,310.7l0.4,-0.8M480.0,258.5l-0.5,-0.1M475.0,307.9l0.8,-1.4M482.7,306.4l-0.4,-0.5M466.4,252.4l-0.2,1.6M467.3,310.8l0.5,-0.9M480.0,309.5l-1.2,-1.1M487.8,304.7l-0.8,0.0M466.7,244.9l-0.2,0.5M462.3,308.8l0.5,-0.9M479.4,266.4l-1.1,0.2M479.4,264.9l-1.6,-0.4M483.4,288.8l-1.2,-0.0M464.6,305.7l1.1,-0.7M474.5,306.8l0.3,-0.6M463.7,242.7l0.4,0.9M463.9,309.7l0.6,-0.4M485.8,307.9l-0.7,-0.5M486.6,307.7l-0.6,-0.5M480.2,305.2l0.3,-0.6M463.2,242.8l-0.8,1.1M473.8,252.3l-1.0,0.8M486.6,278.1l-1.0,0.8M488.3,300.8l-1.0,0.7M469.2,245.5l-1.4,0.9M486.8,282.4l-1.6,-0.0M466.3,308.8l1.1,-0.6M485.7,300.9l-1.1,-0.6M478.4,310.2l0.8,-1.5M481.6,309.3l-0.7,-0.4M468.6,310.3l0.2,-0.6M473.9,257.9l-0.3,1.2M479.4,254.9l-0.7,-0.0M467.8,310.2l-0.7,-1.2M470.3,247.8l-1.0,0.7M484.1,308.4l-0.2,-1.3M471.2,309.1l-0.5,-0.7M485.9,292.2l-1.5,0.2M475.3,307.9l-0.1,-0.5M465.0,309.6l-0.3,-1.0M486.4,304.7l-0.5,-1.6M471.3,307.3l0.2,-1.3M468.5,310.6l-0.5,-1.2M485.5,304.1l-0.7,0.0M482.9,310.1l-0.4,-0.9M484.2,304.1l-1.4,0.2M477.1,309.2l0.4,-1.3M484.9,308.8l-1.5,-0.3M478.5,310.9l0.2,-0.9M482.7,308.8l-1.0,-0.6M486.0,304.2l-1.0,-0.0M475.9,311.4l0.5,-1.2M481.9,285.1l-0.9,1.0M465.7,307.7l-0.4,-1.1M475.4,311.5l0.2,-1.0M457.2,246.1l-0.6,0.5M481.8,281.1l-1.2,1.1M481.9,282.3l-1.0,-1.0M452.4,244.5l0.1,0.5M488.3,304.1l-1.4,-0.3M477.9,311.5l-0.6,-0.9M487.4,306.4l-0.7,-0.9M485.2,306.3l-0.7,-0.1M470.2,310.8l-0.1,-1.2M453.4,241.3l-0.6,0.6M488.0,300.6l-1.0,-0.7M487.6,306.4l-1.1,-0.4M467.6,251.0l-0.4,1.1M475.5,307.3l0.6,-1.0M487.1,304.2l-1.0,1.1M457.6,243.3l-1.1,0.5M468.4,311.7l-0.3,-0.8M461.5,242.9l-0.6,0.7M468.8,247.3l-0.6,0.1M473.1,309.8l-0.5,-0.7M458.2,241.4l-0.9,1.4M484.2,268.2l-0.3,0.6M481.2,304.4l-0.0,-1.0M484.7,309.6l0.1,-0.6M485.2,304.0l-1.0,0.2M473.0,249.8l-1.5,0.0M488.3,301.6l-1.4,0.1M485.1,301.9l-1.4,-0.8M486.5,288.2l-0.6,0.2M474.2,249.6l0.0,1.2M476.8,307.3l0.5,-1.6M468.9,251.6l-1.5,0.5M472.3,310.9l-0.1,-0.6M478.2,310.4l0.7,-1.3M467.8,310.0l-0.9,-0.8M487.5,304.1l-0.8,0.8M485.5,301.2l-1.5,0.1M481.3,267.3l-0.8,0.5M468.2,306.0l-0.4,-0.6M488.2,303.4l-1.0,1.0M474.9,309.1l-0.7,-0.8M480.0,310.8l-0.3,-0.6M487.3,305.0l-0.6,-1.3M486.4,302.6l-0.8,-1.0M481.3,259.5l-0.7,1.2M477.4,306.8l0.1,-0.6M476.5,311.2l-0.5,-1.2M479.7,268.4l-0.6,0.7M460.8,245.2l-0.8,0.8M470.7,254.5l-0.4,1.4M460.1,244.1l-1.2,0.6M484.0,270.2l-0.4,0.6M487.4,303.7l-1.0,-0.5M487.1,304.1l-1.7,-0.1M456.6,241.3l-0.8,1.0M485.4,304.3l-1.6,0.2M472.0,306.3l-0.0,-1.5M477.4,311.3l-0.5,-0.4M486.9,293.9l-1.1,0.8M462.4,310.1l0.5,-0.4M463.1,246.8l0.1,0.5M482.5,272.9l-1.3,-0.3M483.0,303.7l-0.4,-1.1M467.7,311.6l0.1,-1.2M475.0,259.4l-1.0,0.4M484.1,303.8l-0.8,-0.3M469.7,253.2l-0.5,0.7M482.1,285.3l-0.5,-0.5M464.2,247.4l-0.4,1.4M464.3,246.0l-1.2,0.3M481.4,304.0l-0.3,-0.6M488.1,301.6l-1.6,0.4M484.1,264.7l-0.9,0.3M483.8,305.9l-0.3,-1.5M480.1,256.7l-0.6,0.4M483.8,302.8l-1.6,-0.4M484.8,301.6l-1.0,-0.3M477.6,261.1l-0.7,1.3M481.6,268.4l-1.6,0.6M461.1,243.3l-0.5,1.0M485.6,278.3l-1.0,0.5M469.8,250.8l0.1,0.6M455.9,242.8l-1.2,0.6M465.5,307.2l0.3,-0.6M487.1,305.0l-0.3,-0.6M486.6,308.3l-0.9,-1.3M483.6,279.0l-0.9,0.8M486.5,288.1l-1.0,1.3M470.3,307.0l-0.9,-1.0M487.8,304.9l-1.2,-0.3M484.6,265.9l-0.9,0.9M471.3,251.9l-0.5,0.3M480.0,268.0l-1.0,0.7M485.3,270.5l-0.5,-0.2M486.8,305.2l-0.6,0.0M479.9,309.3l0.1,-1.1M464.1,306.2l-0.1,-1.2M485.6,308.1l-0.7,-0.9M483.0,309.0l-0.3,-0.7M470.9,247.2l-0.5,0.1M461.2,310.3l0.6,-0.8M468.9,250.0l-0.0,0.8M486.6,307.5l-0.9,-0.6M454.6,240.6l-0.4,0.5M477.4,309.9l-1.3,-0.9M452.5,240.5l-0.4,1.5M471.0,311.6l0.6,-0.9M472.3,310.3l0.3,-0.6M488.3,303.9l-1.2,-0.3M486.1,294.3l-0.6,-0.3M486.3,304.4l-0.7,-0.8M469.1,252.1l-1.2,0.8M455.6,241.2l0.4,0.7M482.2,306.2l-1.0,-0.8M463.4,242.7l0.1,0.9M466.8,244.8l-0.0,0.6M481.2,262.6l-1.4,0.3M486.6,300.7l-1.5,0.7M483.2,288.8l-1.1,0.4M478.9,260.2l-1.0,0.9M481.4,273.7l-1.2,1.1M474.5,259.2l-0.6,0.3M462.8,307.7l0.4,-0.4M487.0,280.8l-1.3,0.0" fill="none" stroke="#111" stroke-width="1.35" stroke-linecap="round"/>

<path d="M455.3,306.2l1.1,-1.2M454.1,285.5l0.7,-0.1M458.0,306.8l-0.1,-1.3M457.8,305.2l1.6,-0.2M456.5,299.3l0.6,-0.5M457.2,296.9l1.0,-0.9M454.6,287.3l0.9,-1.2M455.8,300.6l1.3,0.1M457.0,307.9l0.9,-0.4M456.3,306.6l0.8,-0.1M457.7,306.5l1.0,-0.8M459.3,308.4l-0.1,-0.7M456.2,300.1l1.1,-1.0M455.0,306.1l1.2,0.7M454.4,289.2l0.5,-0.2M458.4,309.0l0.7,-0.4M455.2,286.6l1.0,-0.2M456.1,293.2l1.3,-0.1M459.2,306.1l0.4,-0.7M459.2,306.3l0.4,-0.4M456.6,307.5l0.3,-1.0M457.2,305.2l0.7,0.1M456.4,302.4l1.2,0.3M456.8,306.2l1.0,-0.3M454.6,299.8l0.4,-0.3M455.9,307.2l0.4,-0.4M457.5,308.4l0.6,-0.4M454.9,290.7l0.9,0.1M457.4,291.8l0.5,-0.4M454.8,305.7l0.8,-1.4M454.1,286.2l0.8,-0.5M456.2,307.2l0.2,-0.8M454.8,300.8l0.8,0.8M454.2,289.3l1.1,0.4M454.8,294.8l0.5,-0.2M458.2,308.2l0.3,-0.9M456.7,306.6l0.2,-0.8M457.4,308.8l0.9,-0.4M458.0,308.2l0.7,-0.5M457.3,305.7l0.2,-0.7M455.3,297.8l1.6,0.0M456.6,304.8l1.6,-0.0M454.6,295.8l0.6,-0.6M455.8,298.8l1.0,-1.0M454.6,301.4l1.3,0.4M454.3,290.0l1.5,0.6M454.5,298.3l1.1,-0.2M456.4,305.6l1.7,0.2M456.4,295.0l1.3,-0.9M457.4,306.8l1.1,-0.6M457.3,308.8l1.1,-0.3M454.4,296.3l1.2,-0.2M455.4,291.2l1.1,0.4M456.4,303.5l0.7,0.6" fill="none" stroke="#111" stroke-width="1.35" stroke-linecap="round"/>

<!-- axis through 17 --><path class="t" d="M341.500,260.500 L331,347.500"/>
<!-- hose 14 -->
<path class="o" stroke-width="2.2" d="M533,266 C533,262.500 539,260 547,260 C555,260 561,262 561,265.500 L562,300 L564,330 L569,362 L574,385 C574.500,388 573,390 570,391.500 C565,394 558,395 553,393.500 C551,393 550,392 549.500,390 L544,366 L538,334 L534,300 Z"/>
<path class="b" d="M535,266.500 C537,263 543,261.800 547,261.800 C553,261.800 558,263 559.500,265.500 C556,268.500 551,269.500 547,269.500 C542,269.500 537,268.500 535,266.500 Z"/>
<path class="o" stroke-width="1.2" d="M540,268.500 C543,266.500 551,266.500 554,268.500 C551,270.500 543,270.500 540,268.500 Z"/>
<path class="n" d="M533,266.500 C536,271.500 558,271.500 561,266"/>
<path class="k" stroke-width="4.4" d="M559.4,268.0 L559.5,270.0 L559.5,272.0 L559.6,274.0 L559.7,276.0 L559.7,278.0 L559.8,280.0 L559.8,282.0 L559.9,284.0 L560.0,286.0 L560.0,288.0 L560.1,290.0 L560.2,292.0 L560.2,294.0 L560.3,296.0 L560.3,298.0 L560.4,300.1 L560.5,302.1 L560.7,304.1 L560.8,306.1 L560.9,308.1 L561.1,310.1 L561.2,312.1 L561.3,314.1 L561.5,316.1 L561.6,318.1 L561.7,320.1 L561.9,322.1 L562.0,324.1 L562.1,326.1 L562.3,328.1 L562.4,330.2 L562.7,332.2 L563.0,334.2 L563.4,336.2 L563.7,338.2 L564.0,340.2 L564.3,342.2 L564.6,344.2 L564.9,346.2 L565.2,348.2 L565.5,350.2 L565.9,352.2 L566.2,354.2 L566.5,356.2 L566.8,358.2 L567.1,360.2 L567.4,362.3 L567.9,364.4 L568.3,366.5 L568.8,368.6 L569.3,370.7 L569.7,372.8 L570.2,374.9 L570.6,377.0 L571.1,379.1 L571.5,381.2 L572.0,383.2 L572.4,385.3 L572.5,385.8 L572.5,386.3 L572.4,386.8 L572.3,387.2 L572.2,387.6 L572.0,387.9 L571.7,388.3 L571.4,388.7 L571.0,389.0 L570.5,389.4 L569.9,389.7 L569.3,390.1 L568.1,390.6 L566.8,391.1 L565.5,391.5 L564.1,391.9 L562.7,392.2 L561.3,392.4 L559.9,392.5 L558.5,392.6 L557.2,392.6 L555.8,392.5 L554.6,392.3 L553.4,391.9" filter="url(#rough)"/>
<path d="M559.7,311.8l-0.9,1.2M568.0,386.0l-0.4,-0.7M562.3,365.0l-0.8,1.2M558.2,280.6l-1.0,-0.1M563.9,354.9l-1.2,-1.1M560.0,292.0l-1.1,-0.3M571.8,387.4l-0.5,-1.4M561.4,320.9l-1.2,0.7M562.4,386.0l0.0,-1.2M561.0,356.9l-0.9,0.1M567.9,368.4l-1.4,-0.6M572.5,388.2l-1.0,-0.5M563.2,350.0l-0.7,-0.1M565.1,354.0l-0.5,-0.4M557.1,314.8l-0.9,0.9M561.1,331.3l-0.8,0.9M570.1,387.5l-0.8,-0.3M567.7,384.2l-1.2,-0.8M560.0,336.2l-0.7,0.7M554.6,306.5l-0.5,0.6M567.4,385.3l-0.5,-1.5M555.8,308.3l-0.9,0.8M565.1,347.6l-1.4,-0.1M554.6,302.7l-1.0,0.8M562.1,390.8l0.7,-1.3M560.7,305.2l-0.9,-0.6M557.2,300.3l-0.9,0.0M559.2,327.0l-0.6,0.4M557.0,280.6l-0.4,0.4M566.9,369.5l-0.6,0.4M557.1,335.7l-0.7,-0.4M560.1,344.9l-1.2,0.3M557.8,285.0l-0.8,0.3M568.7,386.1l-0.1,-0.9M559.1,285.3l-0.4,-0.4M570.6,386.0l-1.3,0.2M570.6,387.3l-0.3,-0.4M562.0,332.2l-0.8,0.6M568.4,373.3l-1.4,-0.8M572.1,387.3l-0.7,-0.3M555.1,388.1l-0.2,-1.3M560.8,332.2l-0.9,0.2M559.2,270.8l-1.0,-0.9M561.3,315.0l-1.4,-0.0M554.0,296.1l-1.3,-0.3M562.6,389.0l0.2,-0.9M555.6,307.9l-1.2,0.6M555.3,310.4l-1.2,-0.4M558.1,313.5l-1.5,-0.7M562.4,359.4l-0.5,0.1M558.4,280.0l-1.1,1.2M560.7,306.0l-1.6,-0.3M558.2,304.1l-1.5,-0.4M569.3,376.7l-1.0,1.1M567.3,386.2l-0.5,0.4M561.4,318.2l-1.1,0.1M566.2,355.9l-0.9,-0.8M556.7,287.4l-1.5,-0.3M567.0,360.2l-1.2,0.5M561.1,309.8l-0.7,-0.4M557.8,317.5l-1.3,-0.6M556.0,280.4l-0.9,-0.9M565.8,365.5l-0.9,1.2M559.5,284.9l-0.8,0.8M564.0,349.3l-1.1,-1.0M566.7,359.4l-0.8,0.5M555.8,317.2l-0.4,0.6M566.7,390.6l-1.5,-0.8M560.9,330.4l-1.5,-0.2M554.3,303.4l-0.8,1.1M557.9,322.4l-0.5,0.8M564.4,344.1l-1.0,0.8M558.4,318.2l-1.0,0.0M563.5,335.7l-1.4,-0.2M567.7,384.7l-1.7,-0.0M569.4,371.4l-0.6,0.6M572.1,386.3l-1.5,0.0M560.0,283.3l-0.9,-0.2M564.5,388.8l-1.0,-1.1M564.9,365.0l-0.4,0.5M558.8,387.6l-0.3,-0.8M556.9,305.6l-1.2,0.4M571.1,388.7l-0.7,-0.3M560.6,354.1l-1.5,-0.4M559.8,336.0l-1.4,0.7M553.2,274.7l-1.1,0.1M567.4,389.6l-0.1,-0.9M569.0,383.9l-0.6,0.5M554.7,274.9l-1.0,1.0M559.0,291.1l-0.8,0.3M564.3,345.7l-0.6,0.3M560.4,308.2l-0.6,-0.1M560.0,300.2l-0.6,-0.2M560.2,390.0l-1.1,-1.0M558.2,272.7l-1.0,0.9M570.7,377.7l-1.3,0.5M561.6,316.7l-0.8,0.0M561.0,336.3l-1.2,0.5M563.3,369.0l-1.2,0.2M556.6,304.0l-0.6,0.2M566.5,384.9l-1.5,0.4M557.3,296.3l-0.8,-0.5M569.4,386.2l-0.2,-1.4M572.0,387.6l-0.9,-1.3M557.4,327.9l-0.7,0.6M560.9,318.8l-1.3,0.0M565.1,354.7l-0.7,0.5M554.9,291.2l-0.9,-0.2M557.4,312.5l-1.4,-0.7M557.9,388.5l0.3,-0.4M562.3,368.2l-0.5,1.0M570.5,382.0l-0.9,-0.6M555.4,269.4l-0.8,-0.7M565.8,351.9l-0.9,0.5M566.3,375.9l-0.7,-0.5M565.7,375.4l-1.2,-0.2M558.4,336.7l-1.6,-0.2M555.5,391.9l-0.4,-0.6M559.5,279.5l-0.4,0.3M560.4,313.6l-0.6,-0.2M558.3,311.6l-1.4,-0.1M565.4,352.9l-1.3,0.9M559.2,279.7l-0.8,0.7M557.2,290.1l-0.9,1.0M561.1,317.1l-1.1,1.1M554.7,291.0l-1.3,0.9M557.5,300.8l-1.7,0.1M556.4,271.0l-1.7,-0.1M562.8,390.7l-0.3,-1.4M563.0,336.8l-0.6,-0.4M560.5,305.8l-0.8,-0.2M568.2,386.3l-1.1,-1.1M560.6,330.4l-0.8,0.2M559.9,340.5l-1.0,0.7M569.6,388.8l0.0,-1.5M555.2,315.3l-0.5,0.3M558.7,337.2l-0.8,0.1M555.1,292.5l-0.6,-0.2M559.6,286.5l-1.1,0.1M559.4,331.5l-1.5,-0.1M556.4,389.1l0.3,-0.8M556.5,320.0l-1.3,0.5M567.3,371.9l-0.6,-0.0M562.0,365.7l-0.8,-0.3M557.2,328.8l-1.4,-0.8M562.5,392.0l0.7,-1.1M554.9,282.9l-1.0,-0.7M567.9,371.5l-1.5,-0.7M560.9,391.1l0.1,-1.5M557.0,300.3l-0.6,-0.4M566.7,356.8l-0.9,-0.0M571.5,387.8l-0.6,0.1M569.6,387.3l-0.6,-0.2M571.1,386.5l-1.0,1.0M558.4,283.2l-1.3,0.6M562.7,336.5l-1.1,-0.4M570.2,382.3l-1.5,-0.5M562.6,363.8l-1.0,-0.8M555.1,392.2l-0.9,-1.3M571.4,386.5l-1.0,-0.1M555.7,288.3l-1.4,-0.8M554.8,390.7l0.8,-0.6M569.0,386.3l-1.0,-0.0M571.3,387.3l-0.2,-1.5M561.8,320.3l-1.4,0.3M568.8,373.1l-0.4,0.7M556.3,277.6l-1.1,-0.2M567.0,358.7l-0.6,-0.5M560.6,303.0l-0.6,0.7M568.8,386.3l-0.8,0.1M559.2,281.4l-0.4,0.4M558.7,312.3l-0.7,0.2M557.8,325.9l-1.1,0.7M569.9,388.8l-0.4,-0.7M566.0,355.8l-0.7,0.1M563.4,372.0l-1.1,-0.2M559.8,287.1l-1.2,0.4M560.3,326.9l-0.7,-0.1M571.2,386.2l-0.8,-0.4M563.1,339.8l-1.4,-0.6M561.3,357.6l-0.8,-0.2M568.3,387.9l0.1,-0.9M555.6,271.2l-1.1,0.0M569.4,380.1l-1.1,0.1M562.1,328.2l-0.6,0.0M564.9,385.1l0.1,-1.6M558.9,274.7l-0.7,-0.2M568.7,385.5l-1.3,-0.2M571.8,386.4l-0.9,-0.9M557.0,390.6l-0.4,-0.5M568.5,386.2l-1.7,0.2M565.5,350.4l-1.5,0.3M564.7,353.0l-0.9,-0.8M558.1,270.7l-1.4,0.5M560.1,288.4l-0.6,0.8M568.9,370.6l-0.9,0.8M571.3,386.9l-1.0,-0.3M556.5,305.4l-1.1,0.4M566.6,358.8l-1.3,0.9M571.8,388.4l-0.9,-0.4M559.3,336.7l-1.3,-1.0M555.9,327.3l-1.3,-0.0M559.2,288.1l-0.9,0.3M557.4,291.6l-0.8,-0.1M555.3,294.9l-0.7,0.1M571.8,381.5l-0.7,-0.1M558.7,299.9l-0.7,0.3M558.8,302.8l-1.0,-0.4M565.5,389.4l-0.2,-0.9M560.0,343.7l-1.4,-0.5M559.5,327.9l-0.8,-0.7M565.0,347.6l-0.9,-0.8M559.6,340.7l-1.0,0.0M556.0,311.4l-0.5,0.6M570.4,382.9l-0.8,0.9M562.0,346.1l-1.1,-0.7M562.4,327.8l-0.6,0.0M557.8,294.1l-0.7,0.9M561.2,324.8l-0.4,0.2M554.9,386.4l1.3,-1.1M553.4,276.3l-1.3,0.8M560.0,319.6l-1.3,0.9M560.4,304.7l-0.7,-0.1M570.8,387.1l-1.0,-1.1M558.4,289.8l-0.8,0.0M560.9,389.0l0.4,-0.4M553.9,392.5l-0.8,-1.0M561.0,345.0l-0.8,1.1M558.3,332.6l-1.0,0.2M568.1,365.2l-1.3,0.2M557.4,295.1l-0.6,0.6M570.6,385.4l-0.4,-0.4M555.9,302.4l-1.3,0.5M559.7,348.9l-1.3,0.7M560.9,309.3l-0.5,0.6M557.2,291.6l-0.9,-1.0M558.5,287.9l-1.5,-0.7M568.6,386.6l0.0,-0.7M568.5,381.9l-1.5,-0.8M566.8,384.2l-1.0,0.4M558.7,271.0l-0.7,0.4M556.4,293.8l-1.4,-0.0M556.7,331.4l-0.6,0.6M558.4,390.7l-0.3,-1.3M562.7,389.5l0.1,-1.3M558.2,390.7l0.8,-0.7M560.4,305.3l-0.8,-0.5M562.8,345.8l-1.2,-0.1M559.4,330.3l-1.4,0.4M561.5,315.2l-1.4,-0.8M554.8,390.3l0.5,-1.4M572.5,385.9l-0.4,0.5M564.6,371.4l-0.4,0.5M555.1,281.6l-1.2,-0.3M559.7,298.5l-0.8,-0.5M558.7,311.6l-0.8,0.5M569.3,386.1l-0.6,-0.1M559.5,294.1l-0.7,0.3M560.7,310.7l-1.0,-0.5M567.9,386.2l-0.8,-0.3M557.9,287.0l-0.8,0.1M559.7,311.5l-0.9,0.5M568.3,386.9l-1.1,-0.1M560.2,300.0l-1.1,0.4M554.3,297.7l-0.6,0.1M556.8,305.1l-1.1,0.7M562.7,367.0l-0.3,0.6M555.1,312.2l-0.8,0.9M562.8,387.7l-0.3,-0.5M559.2,300.5l-0.4,0.5M567.1,383.8l-0.7,0.2M556.5,323.7l-0.7,-0.2M559.9,318.6l-1.5,-0.0M567.2,367.0l-0.6,0.3M559.1,294.6l-1.3,1.0M568.3,379.1l-1.3,0.5M559.1,288.0l-0.7,0.9M561.2,320.6l-1.2,0.4M560.1,288.6l-0.7,0.2M565.8,377.7l-0.3,0.5M559.8,327.9l-1.5,-0.6M561.4,389.7l0.7,-1.2M572.0,383.4l-1.6,0.4M565.6,352.1l-0.4,0.4M557.3,276.8l-1.1,-0.7M566.5,385.7l-1.6,0.2M565.8,355.0l-0.7,1.0M568.8,387.2l-0.9,-1.0M559.0,345.1l-0.5,-0.2M559.8,282.4l-1.3,0.8M565.0,389.2l-0.5,-0.6M570.0,387.8l-1.2,-0.6M569.6,388.0l-1.4,-0.5M571.4,386.9l-0.3,-0.8M565.4,362.0l-0.7,1.2M560.9,392.3l-0.4,-1.1M556.8,390.7l-0.1,-1.5M560.6,319.2l-0.8,0.3M553.6,283.9l-1.1,-0.2M560.1,306.7l-0.6,-0.3M567.3,384.0l-0.5,-0.4M561.5,341.9l-1.4,0.1M567.2,384.3l-0.1,-1.4M557.9,285.7l-0.8,0.6M562.5,332.3l-1.0,0.6M564.4,390.3l0.3,-0.6M563.2,391.7l0.6,-0.8M566.3,371.8l-0.8,-0.4M569.7,386.3l-0.8,-0.3M566.0,354.1l-1.5,-0.1M558.9,298.6l-1.5,0.4M556.2,294.4l-0.6,-0.2M566.9,364.3l-0.8,1.1M554.9,295.4l-0.8,-0.4M566.6,386.3l-0.5,-0.3M560.1,392.0l-0.5,-0.7M555.6,318.0l-0.5,0.5M564.2,342.0l-0.7,0.5M558.9,312.6l-0.8,-0.7M568.8,385.7l-1.4,0.2M565.9,382.2l-0.7,0.5M567.5,383.5l-1.3,-1.0M569.2,389.4l-0.2,-0.6M559.7,281.0l-1.2,0.8M561.0,310.9l-0.8,0.2M559.2,284.3l-1.7,-0.1M557.7,299.7l-1.1,-1.1M571.0,381.7l-0.8,0.7M562.6,389.4l-0.5,-0.5M560.0,288.9l-1.0,1.0M560.5,392.4l-0.0,-0.6M558.0,336.2l-0.4,0.7M557.8,279.1l-1.2,-0.4M568.2,369.4l-0.4,0.4M567.2,387.8l-0.5,-1.0M567.4,382.2l-1.0,-0.5M560.5,334.6l-0.9,0.6M561.3,313.0l-0.5,-0.4M569.3,386.8l-1.1,-0.5M570.8,388.5l-0.5,-0.3M554.0,280.7l-1.1,0.1M567.6,388.1l-0.4,-0.5M567.1,389.8l-0.1,-0.8M562.6,332.9l-0.5,0.4M556.2,297.3l-0.8,0.3M571.0,386.9l-0.4,-0.5M572.0,387.3l-0.5,-0.5M561.3,321.0l-0.7,0.7M557.2,390.3l0.5,-0.8M554.8,389.3l-0.7,-1.1M566.4,387.0l-1.1,0.2M567.4,374.0l-0.4,-0.3M571.8,387.3l-0.9,-0.3M567.8,388.1l-0.2,-1.5M558.1,327.2l-0.7,0.4M569.5,387.1l-1.1,0.4M558.1,295.4l-1.0,1.0M569.9,388.3l-0.8,-0.7M559.3,274.2l-1.3,-0.6M570.6,382.3l-0.8,0.6M571.4,387.8l-0.1,-1.1M566.8,384.6l-0.6,-0.1M562.1,324.2l-1.2,0.3M561.7,346.1l-1.4,-0.3M567.0,381.7l-0.7,0.6M566.4,385.6l-0.7,-0.9M554.6,281.5l-1.3,0.2M557.1,297.8l-1.3,0.6M555.0,295.5l-0.7,-0.3M557.8,329.0l-0.6,0.3M564.6,385.8l0.1,-1.7M566.9,358.9l-1.3,-0.3M570.0,386.2l-0.1,-1.0M567.8,386.3l0.0,-0.9M558.5,282.7l-1.2,0.3M569.2,376.6l-0.5,-0.3M568.8,385.6l-0.6,-0.1M556.5,324.9l-0.5,-0.0M559.2,392.3l-0.1,-1.3M560.8,357.2l-0.9,1.1M567.5,385.8l0.1,-0.7M558.2,335.0l-0.6,0.7M561.1,348.7l-0.7,0.0M569.1,386.6l-0.5,-1.0M560.6,304.1l-1.4,-0.1M567.0,384.0l-1.1,-0.8M560.5,386.5l0.7,-0.9M557.1,305.3l-0.8,-0.7M558.3,269.2l-1.3,0.5M570.6,386.1l-0.4,-0.4M565.0,351.6l-1.3,0.3M566.9,360.5l-0.8,0.2M554.9,273.9l-1.3,-0.2M569.0,387.1l-0.7,0.1M562.9,354.3l-0.7,0.1M558.6,338.4l-1.4,0.7M559.8,319.7l-1.2,0.0M559.8,281.9l-0.8,-0.8M554.2,273.2l-1.7,-0.3M567.4,385.3l-1.4,0.4M568.7,382.6l-0.5,0.9M571.2,386.6l-0.9,1.3" fill="none" stroke="#111" stroke-width="1.35" stroke-linecap="round"/>

<path class="k2" d="M533.5,270 L534.5,300 L538.5,334 L544.5,366 L550,390"/>
<path d="M534.5,271.0l0.6,0.4M537.7,306.5l0.6,0.5M536.9,311.4l0.7,-0.7M539.0,316.1l0.5,-0.5M537.7,312.8l1.3,1.0M543.0,346.8l0.7,-0.6M536.9,306.3l1.3,0.0M542.5,344.9l1.1,-0.2M540.0,336.4l1.2,-0.0M550.2,385.7l0.9,-0.5M538.6,321.9l0.5,-0.4M550.7,381.4l0.9,0.5M534.7,274.2l0.5,-0.5M536.5,307.8l1.4,-0.5M546.2,364.2l0.6,0.3M537.5,313.8l1.1,-0.3M536.9,301.3l1.3,0.2M535.0,288.5l0.6,0.3M542.3,344.3l1.3,-0.1M543.4,354.4l0.6,-1.2M537.8,320.5l0.7,0.5M539.7,328.5l1.6,-0.3M545.3,365.2l0.5,0.2M539.6,325.4l1.0,0.3M534.8,276.8l1.1,0.7M536.6,276.8l0.6,0.2M535.4,279.4l0.5,-0.1M540.8,331.6l0.7,0.1M536.7,277.5l1.0,0.8M536.2,279.8l0.7,-0.6M538.5,323.8l0.7,-0.6M539.5,324.8l0.7,0.0M536.4,277.6l1.0,-0.4M548.1,378.3l0.5,-1.0M546.4,368.9l0.5,0.0M534.9,289.6l1.2,-0.9M548.3,376.1l0.9,0.1M534.9,271.5l0.6,-0.7M536.2,287.3l1.2,0.4M542.8,352.6l0.6,-0.7M541.8,347.2l1.5,0.7M543.3,351.1l0.8,-0.2M535.5,275.1l1.0,0.4M538.0,320.4l0.8,0.4M549.3,382.4l1.2,0.1M546.7,368.0l0.5,-0.8M538.8,313.6l1.0,-0.0M535.8,280.4l0.4,0.3M547.7,370.3l0.9,-0.8M544.3,352.8l1.2,0.2M544.9,357.1l1.4,-0.1M535.4,297.1l1.0,-0.7M545.0,356.1l1.2,0.3M543.6,352.2l1.2,0.1M536.4,286.7l1.4,0.3M540.8,342.7l1.2,0.2M535.0,290.0l1.6,0.2M548.0,376.2l0.5,-0.1M535.3,286.6l1.1,-0.5M543.9,356.4l0.6,-0.1M544.6,356.0l1.4,0.2M534.8,280.9l0.5,0.4M535.6,284.1l1.1,-1.2M536.4,289.3l0.7,0.7M542.7,345.2l0.9,-0.0M549.3,375.3l0.3,-0.6M534.4,272.1l0.6,0.7M539.2,327.6l1.3,0.7M545.0,351.5l0.7,-0.0M546.1,366.6l0.6,0.1M536.2,292.4l1.2,0.3M543.7,353.8l0.7,0.3M540.4,339.3l1.4,0.1M534.3,271.4l0.8,-0.7M538.8,327.4l0.4,0.4M538.5,326.7l0.8,0.1M539.9,335.0l1.3,-0.6M536.1,302.1l0.7,0.4M544.6,351.1l0.4,-0.8M536.6,310.1l1.5,0.7M544.7,362.6l0.5,-0.3M534.4,271.8l0.6,0.1M536.8,290.9l1.2,-0.3M535.7,292.7l1.0,0.5M542.3,348.6l1.4,-0.1M535.7,286.5l0.6,-0.1M537.7,302.5l1.0,0.9M535.7,286.2l1.1,-0.0M540.9,341.1l0.9,0.3M535.0,290.9l1.1,-0.8M540.9,340.0l0.6,0.1M536.8,289.3l0.8,0.2M543.5,347.1l1.1,-0.8M538.6,326.5l1.2,-0.5M535.2,284.0l1.0,-0.6M549.4,378.2l0.8,0.1M547.7,369.1l0.5,-1.0" fill="none" stroke="#111" stroke-width="1.35" stroke-linecap="round"/>

<!-- hose 11 -->
<path class="o" stroke-width="2.2" d="M574,531 C578,528 585,526 590,526 C594,533 596.500,540 597,547 C598,554 598,560 597.600,566 L596.700,577 C592,579 584,578.500 579.700,575.500 C579.500,568 578.500,562 577.800,556 C577,549 575.500,543 575,539 Z"/>
<path class="k" stroke-width="3.2" d="M589.1,526.5 L590.1,528.2 L591.0,529.9 L591.8,531.7 L592.6,533.4 L593.2,535.1 L593.9,536.8 L594.4,538.5 L594.9,540.2 L595.3,542.0 L595.6,543.7 L595.8,545.4 L596.0,547.1 L596.2,548.9 L596.4,550.5 L596.6,552.2 L596.7,553.8 L596.8,555.3 L596.8,556.9 L596.8,558.4 L596.8,560.0 L596.8,561.5 L596.8,563.0 L596.7,564.4 L596.6,565.9 L596.4,568.1 L596.2,570.3 L596.1,572.5 L595.9,574.7 L595.8,576.5 L595.2,576.5 L593.9,576.8 L592.5,577.0 L591.1,577.2 L589.6,577.2 L588.1,577.1 L586.6,577.0 L585.2,576.7 L583.8,576.3 L582.5,575.9 L581.3,575.3 L580.2,574.6" filter="url(#rough)"/>
<path d="M588.8,528.4l-0.1,0.5M587.7,576.6l-0.3,-1.4M594.8,542.1l-0.7,0.3M595.1,540.1l-0.7,-0.0M594.1,566.2l-1.0,0.2M588.1,535.1l-0.4,0.6M596.4,568.9l-1.1,-0.7M592.5,574.7l-0.5,-0.6M595.9,562.9l-1.2,-0.5M591.2,551.6l-0.8,-0.4M583.1,571.1l0.7,-0.2M582.1,574.6l0.6,-0.6M596.0,548.5l-0.8,-0.6M594.3,540.7l-1.6,-0.5M592.6,545.7l-0.9,0.7M592.5,557.0l-1.0,0.7M592.1,576.8l-1.0,-1.4M594.9,555.4l-0.6,-0.5M584.7,575.8l-0.2,-0.6M588.4,535.8l-0.8,1.4M593.8,547.4l-1.3,0.2M594.5,552.3l-1.4,0.0M594.1,541.9l-0.7,-0.1M594.1,568.6l-0.6,-0.1M595.1,543.2l-1.5,-0.3M583.5,575.6l1.4,-0.6M583.7,571.6l0.1,-1.0M595.1,550.4l-0.7,-0.3M595.8,563.6l-0.5,0.5M582.1,572.6l0.3,-1.3M596.0,572.1l-0.6,-0.9M589.2,528.2l-1.6,0.1M595.4,559.4l-1.0,0.7M587.7,573.4l1.1,-0.8M588.7,575.2l0.8,-1.4M595.1,568.8l-0.9,-1.1M584.9,576.2l-0.2,-1.6M596.1,561.5l-0.8,0.3M595.7,574.3l-0.5,-0.1M588.4,572.8l0.1,-1.1M595.0,557.3l-1.3,0.9M596.1,562.9l-0.7,0.6M591.5,569.7l-0.8,0.7M595.6,576.4l-1.0,0.1M589.8,572.4l0.1,-1.4M590.8,543.3l-0.7,0.3M595.3,576.2l0.0,-1.0M594.3,556.8l-0.6,0.2M592.8,554.8l-1.4,0.6M596.1,559.8l-0.4,-0.4M588.5,572.7l0.7,-0.8M594.2,556.1l-1.0,0.6M592.0,541.6l-1.3,-0.3M590.4,574.6l-0.6,-1.0M583.4,574.3l-0.1,-1.3M581.2,575.3l0.2,-1.6M594.2,543.3l-1.0,0.5M584.4,575.0l0.8,-1.2M591.9,575.9l0.2,-1.1M593.2,551.0l-0.7,0.6M590.2,536.6l-1.3,-0.6M587.7,531.5l-0.7,-0.2M594.6,573.3l-0.7,-0.7M593.1,538.3l-0.5,-0.2M594.2,544.4l-1.2,-0.7M596.1,554.0l-1.6,-0.3M594.5,572.7l-1.6,0.5M587.3,576.5l-0.0,-1.4M589.8,539.3l-0.8,0.2M595.1,557.9l-1.2,0.4M591.6,557.5l-0.9,-0.1M585.2,574.8l0.2,-1.1M585.4,571.7l0.2,-1.2M594.6,574.7l-0.1,-0.5M588.0,535.0l-1.7,0.0M595.3,575.8l-0.6,-0.4M596.4,552.4l-0.6,-0.6M593.6,556.2l-1.6,-0.2M595.1,573.4l-0.6,-0.9M592.6,567.2l-0.7,0.6M583.2,575.4l0.2,-0.7M590.4,535.8l-1.0,-0.1M589.1,535.5l-0.5,0.3M594.9,543.0l-0.4,0.4M595.5,561.0l-0.6,0.3M584.7,570.8l-0.4,-0.9M588.6,571.6l-0.8,-1.2M585.0,574.5l-0.5,-1.2M583.0,574.2l0.9,-0.5M585.0,574.1l0.1,-1.0M590.4,538.0l-0.8,0.3M594.3,570.3l-0.4,-0.6M591.5,544.3l-1.3,-0.5M592.4,564.6l-0.8,0.5M593.8,555.1l-1.4,0.6M591.8,551.4l-1.3,0.3M594.6,555.8l-1.3,-0.6M593.5,573.0l-0.0,-0.9M590.5,576.1l0.1,-1.6M583.6,576.1l-0.9,-1.4M585.4,575.7l0.8,-1.3M591.1,569.7l-0.7,-1.1M591.6,537.1l-0.5,0.9M593.2,575.2l-0.5,0.3M591.7,533.1l-0.5,0.3M592.1,574.0l-0.2,-0.6M591.1,575.3l-1.0,-0.6M591.6,548.4l-1.0,-0.7M595.4,563.3l-1.2,-0.4M592.7,549.6l-0.7,0.7M594.3,545.7l-1.5,0.3M582.9,575.1l0.2,-0.5M592.0,563.2l-0.8,-0.8M594.4,542.5l-1.2,-1.0M594.6,566.4l-0.9,-0.1M596.4,565.4l-0.8,0.5M593.8,554.8l-0.5,0.6M594.9,560.0l-0.7,0.8M595.5,554.5l-1.0,0.7M594.8,554.9l-1.6,-0.6M596.4,551.9l-1.0,0.7M590.7,534.7l-0.2,0.7M591.5,574.1l-1.3,-1.0M593.9,574.0l-0.7,-0.7M594.3,557.7l-1.2,0.3M589.0,529.5l-0.9,0.7M592.8,536.3l-0.5,0.9M593.1,564.5l-1.4,-0.2M590.3,543.9l-0.8,0.5M585.4,573.9l0.1,-1.5M588.3,572.0l0.7,-0.9M595.0,551.8l-0.6,0.4M596.5,552.2l-0.7,0.4M582.0,574.2l0.5,-1.3M596.7,554.8l-0.9,0.4M589.5,531.1l-0.3,1.0M594.7,566.2l-0.5,0.5M594.5,543.0l-1.5,0.0M589.8,536.9l-0.9,-0.4M596.2,552.8l-0.9,0.2M591.1,535.2l-0.9,0.5M589.4,530.6l-0.9,0.8M590.8,575.5l-0.2,-1.0M591.8,532.6l-1.6,-0.0M588.1,535.3l-0.2,0.8M592.3,548.2l-0.8,0.2M586.8,532.0l-0.9,0.1M596.1,561.7l-1.1,0.7M595.3,560.9l-1.2,0.5M596.3,568.3l-1.0,-0.9M586.9,576.5l0.3,-1.3M591.8,531.7l-0.9,1.4M591.6,556.4l-0.6,-0.3M595.2,557.2l-0.4,-0.3M583.7,570.4l0.3,-0.8M592.8,534.4l-1.3,0.5M592.7,573.6l-0.0,-1.0M593.0,573.6l1.1,-1.3M591.0,545.1l-0.6,-0.3M595.1,562.7l-1.1,-0.8M592.3,573.6l-1.0,-0.3M590.8,530.3l-0.7,0.8M595.3,541.5l-1.2,-0.4M593.8,541.8l-1.1,-0.1M596.6,563.5l-1.0,-1.0M585.4,530.0l-1.0,-0.2M596.3,553.6l-0.8,-0.2M596.3,548.0l-0.5,0.1M594.9,560.0l-0.6,0.4M590.3,528.8l-0.8,-0.1M594.1,546.6l-1.5,0.1M595.9,571.9l-1.0,-1.3M593.5,573.9l-1.3,-0.9M586.0,576.3l-0.3,-1.1M594.0,556.3l-0.5,0.5M588.3,576.8l-1.0,-1.1M587.5,575.2l-0.2,-0.9M593.7,542.7l-1.3,-0.5M587.4,576.6l0.8,-1.2M595.1,573.2l-0.8,-0.9M585.6,572.6l0.4,-0.5M594.9,556.2l-1.4,-0.5M595.4,547.3l-0.7,0.4M592.9,540.1l-1.1,-0.3M592.0,574.4l-0.3,-0.4M588.0,535.7l-1.0,0.0M591.7,573.3l-0.2,-0.5M594.5,576.7l0.6,-0.7M593.2,549.2l-1.4,-0.9M588.0,532.9l-0.9,0.6M591.9,536.5l-0.4,0.7M595.7,563.9l-1.0,0.9M588.5,535.4l-1.2,0.0M595.3,553.3l-0.6,-0.4M591.7,574.4l-0.9,-0.1M596.1,568.4l-1.1,-0.0" fill="none" stroke="#111" stroke-width="1.35" stroke-linecap="round"/>

<path class="k2" d="M574,531 L575,539 C575.500,543 577,549 577.800,556 C578.500,562 579.500,568 579.700,575"/>
<path class="t" d="M586,578.500 L586,584"/>
<path class="o" stroke-width="2.2" d="M578.700,584.500 C584,582.500 591,582.500 595.700,584 C596,588 595,592 593.800,596 L588,614.700 C583,615 576,612.500 572,609 L575,597.700 C576,593 577.500,588 578.700,584.500 Z"/>
<path class="k" stroke-width="3.2" d="M594.7,584.0 L594.7,585.0 L594.7,586.0 L594.7,586.9 L594.6,587.9 L594.5,588.9 L594.3,589.8 L594.1,590.8 L593.9,591.8 L593.7,592.8 L593.4,593.7 L593.1,594.7 L592.8,595.7 L592.2,597.8 L591.6,599.9 L590.9,601.9 L590.3,604.0 L589.6,606.1 L589.0,608.2 L588.3,610.2 L587.7,612.3 L587.3,614.0 L586.7,613.7 L585.5,613.6 L584.1,613.4 L582.7,613.2 L581.4,612.8 L580.0,612.3 L578.6,611.8 L577.3,611.2 L576.0,610.5 L574.8,609.8 L573.7,609.1 L572.6,608.2" filter="url(#rough)"/>
<path d="M590.2,588.6l-0.4,-0.7M594.5,587.6l-0.8,0.8M576.2,608.6l0.6,-0.1M588.3,596.1l-0.3,-0.5M590.9,590.9l-1.6,-0.2M590.7,602.7l-0.7,0.2M585.6,612.2l-0.8,-0.9M586.4,613.6l-0.3,-0.8M575.3,610.2l-0.1,-1.7M591.3,591.7l-0.7,-0.7M593.0,586.9l-0.8,-0.3M576.7,605.8l0.6,-1.0M589.7,601.3l-1.3,0.7M591.2,592.4l-0.5,-0.4M593.0,584.1l-1.3,-0.8M584.9,611.3l-1.0,0.1M579.0,611.8l-0.6,-1.2M591.2,599.3l-1.1,-0.7M590.8,590.1l-0.3,-0.6M589.4,596.7l-0.5,-0.4M592.9,593.5l-0.6,-1.5M589.9,605.8l-0.8,-1.1M586.1,601.0l-0.6,-0.1M589.5,600.8l-1.4,0.9M585.7,602.9l-0.9,-0.1M592.3,584.1l-1.0,0.5M592.6,595.9l-0.8,-0.1M592.1,586.9l-0.7,-0.5M591.3,598.0l-0.6,-1.4M578.7,607.1l0.2,-0.6M574.5,609.6l0.1,-0.9M592.8,592.2l-1.7,0.1M591.8,584.2l-0.7,-0.3M591.2,585.2l-0.4,0.5M586.4,611.7l-1.2,-0.2M576.7,605.2l1.5,-0.5M586.4,612.6l-0.5,-1.1M591.7,590.6l-0.6,-1.0M588.4,608.7l-0.9,-0.4M592.3,586.7l-0.9,-0.9M593.7,586.3l-0.7,0.1M590.8,587.6l-1.3,0.6M589.5,594.1l-0.6,-0.3M584.5,608.3l0.1,-1.0M594.5,586.4l-0.6,-0.5M592.6,593.6l-1.1,-0.7M581.5,609.5l0.5,-1.2M591.3,597.3l-0.3,-0.7M581.5,610.3l0.6,-1.2M591.8,597.5l-1.4,0.3M591.4,600.7l-1.2,-0.5M590.0,587.1l-1.5,0.6M585.7,612.9l-1.5,-0.4M593.5,590.5l-1.3,-0.2M592.9,589.0l-0.3,-0.5M586.3,613.4l0.1,-0.7M593.9,588.1l-0.6,-0.4M578.3,610.6l-0.3,-1.5M584.9,611.1l-0.7,-0.3M581.0,609.7l0.9,-1.1M594.6,587.6l-0.4,0.3M592.6,596.1l-0.5,0.2M594.3,589.2l-0.6,-0.2M585.1,611.4l-1.4,0.3M581.8,612.2l-0.3,-1.0M586.2,609.7l-1.2,0.2M575.5,610.8l0.9,-0.5M585.2,610.8l-0.7,-0.6M581.9,613.4l0.4,-1.6M574.4,607.5l0.3,-0.6M587.5,602.8l-0.6,-1.1M578.3,608.0l1.0,-0.9M583.5,611.9l-0.5,-0.5M589.3,595.5l-1.5,0.0M591.9,598.2l-1.4,0.8M585.5,612.6l-0.8,-0.3M576.3,606.0l0.8,-1.0M579.0,611.1l0.5,-1.0M586.0,611.8l-0.5,-0.8M584.0,609.5l0.8,-0.8M590.0,587.9l-1.2,0.5M590.1,593.5l-0.8,-0.7M590.2,604.4l-1.0,-0.7M580.4,610.2l-0.3,-1.2M589.4,598.4l-0.7,0.0M575.4,608.1l0.9,-1.3M586.2,606.8l-0.6,-1.5M588.4,599.3l-1.6,-0.4M580.6,612.2l1.0,-1.0M590.9,592.3l-0.9,-0.2M593.5,585.4l-0.5,0.4M591.6,587.5l-1.6,-0.4M594.5,587.0l-0.4,-0.3M588.9,604.3l-0.7,-0.1M591.1,599.1l-1.2,-0.7M591.5,589.9l-0.5,-0.4M583.9,611.1l0.6,-0.5M588.1,602.0l-1.1,0.1M593.2,593.2l-1.0,0.6M585.8,613.3l0.4,-1.0M590.3,595.2l-0.4,-0.4M592.9,591.5l-0.8,-1.4M587.6,613.1l-0.9,-1.2M593.4,589.0l-0.6,-0.5M584.3,612.2l-0.6,0.3M592.6,589.5l-0.9,-0.9M593.1,588.7l-0.8,-0.9M592.6,594.3l-1.4,-0.5M588.5,605.1l-0.9,-0.6M585.5,602.9l-1.1,-0.9M587.3,614.1l-0.2,-1.2M580.1,612.2l0.6,-0.5M585.1,606.1l-0.7,0.4M594.5,587.8l-0.7,-0.3M586.1,612.7l-1.2,-0.1M592.9,591.0l-0.7,0.2M591.0,587.0l-1.2,-0.8M575.5,606.0l0.0,-1.1M587.7,602.9l-0.7,-0.4M576.2,609.3l1.6,-0.7M578.2,607.4l0.4,-0.7M586.5,610.0l-1.0,-0.7M583.7,610.2l0.5,-0.5M593.6,586.8l-1.0,0.3M593.1,589.8l-0.6,0.2M591.0,593.7l-0.5,-0.6M586.4,609.6l-0.4,-0.8M583.9,611.7l-1.4,-0.3M592.9,593.1l-1.0,-0.4M574.4,606.9l0.6,-0.2M584.6,613.3l-0.0,-0.8M592.2,591.8l-0.3,-0.5M590.1,597.7l-1.0,0.2M591.5,584.3l-0.6,0.6M577.4,609.5l0.3,-0.7M574.2,608.2l-0.2,-1.5M593.2,585.7l-1.1,-0.3" fill="none" stroke="#111" stroke-width="1.35" stroke-linecap="round"/>

<path class="k2" d="M578.700,584.500 C577.500,588 576,593 575,597.700 L572,609"/>
<path class="k2" d="M579,585 C584,583 591,583 595.500,584.500"/>

<!-- 20_upper -->
<!-- axis lines -->
<path class="t" d="M326.700,361 L322.200,375.600"/>
<path class="t" d="M472,314.700 L472,331 M472,343.300 L472.700,383"/>
<!-- elbow 13 -->
<path class="o" d="M458,397 L458,439 C459,450 463,459 470,465.500 C476,472 483,476.500 490,479 C499,483 509,485 519,485.500 C534,486 548,484 564.800,480.100 L567.500,494 C569,498 581,497.500 581.900,493.300 L577,476.500 L579.500,478.600 C593,474.500 605,470.500 619,466 L629,462 L634,460 C637,458 639,456.500 641,454.500 L657,431.500 C659,428.500 661,427 664.500,426 L760,415.500 L819,406 L816,390.500 L760,400 L700,406.500 L653.500,412 C650,413 648,414 646.500,415.500 L627,443 L614.500,445.800 L593,445.800 L563,450 C549,453 536,456 523,457.500 C517,457 512,456 507.500,454 C503,452 499,449 496.500,445.500 C492,440 490.500,434 490,427.500 L489.500,397 Z"/>
<path class="k2" d="M458,439 C459,450 463,459 470,465.500 C476,472 483,476.500 490,479 C499,483 509,485 519,485.500 C534,486 548,484 564.800,480.100"/>
<path class="k2" d="M579.500,478.600 C593,474.500 605,470.500 619,466 L629,462 L634,460 C637,458 639,456.500 641,454.500 L657,431.500 C659,428.500 661,427 664.500,426 L760,415.500 L819,406" transform="translate(0.3,0.8)"/>
<path class="t" d="M641,452 L656,430 C658,427.500 661,425.500 664,424.500 L760,414 L818,404.500"/>
<path class="n" d="M627,443 C630,448 632,454 632.500,458.500"/>
<path class="t" stroke="#666" stroke-width="1" d="M614.500,446 C618,452 620,460 619.500,466 M606,446 C609.500,452 611.500,461 611,468.500 M598,446 C601.500,452 603.500,463 603,471"/>
<path class="n" d="M564.800,480.100 L567.500,494 M576.800,476.500 L581.900,493"/>
<path class="t" stroke="#777" stroke-width="2" d="M578,481 L580.500,492"/>
<!-- nipple ring at bottom of elbow -->
<ellipse class="o" cx="575.700" cy="498" rx="9.700" ry="4.300" stroke-width="2.300"/>
<ellipse class="n" cx="575.200" cy="498.300" rx="6.200" ry="2.500" stroke-width="1.600"/>
<path class="k" d="M566.200,499 C568,503.500 581,503.800 584.500,500.500" stroke-width="2.600"/>
<!-- elbow top flange -->
<path class="o" d="M456.800,381 C456.800,376.500 464,373 473.300,373 C482.500,373 489.800,376.500 489.800,381 L490.500,384 C493,385.500 494,388 493.500,391 C493,394.500 491,397 489.500,398 L458,398 C455.500,397 453,394.500 452.700,391 C452.500,388 454,385.500 456.500,384 Z" stroke-width="2.200"/>
<ellipse class="o" cx="473.300" cy="380.800" rx="16.500" ry="7.600" stroke-width="2.200"/>
<ellipse class="n" cx="473.300" cy="381.300" rx="12.300" ry="5"/>
<path class="b" d="M461,381.500 C462,378.500 467,376.800 473,376.800 C479,376.800 484,378.300 485.600,381 C483,379.800 478,379.300 473.500,379.500 C468,379.700 463.500,381 462.500,384 C461.500,383.300 461,382.500 461,381.500 Z"/>
<path class="k2" d="M461.500,383 C464,387.500 482,387.500 485.300,382.500"/>
<path class="n" d="M456.500,385 C461,393 487,393 490.500,385"/>
<path class="n" d="M458,397.500 C463,402.500 485,402.500 489.500,397.500"/>
<path class="k2" d="M490.500,384 C493,385.500 494,388 493.500,391 C493,394.500 491,397 489.500,398"/>
<!-- small square tab on elbow -->
<path class="o" d="M458,437 L465,435 L468,441.500 L460.500,444 Z"/>
<!-- bracket + washer 8 + bolt 12 -->
<path class="o" d="M491.500,431.500 L498,429.500 L500,434 L497,435.500 L499,440 L493.500,441.500 Z" stroke-width="2.400"/>
<ellipse class="o" cx="508.200" cy="432.500" rx="3.400" ry="4.200" stroke-width="2.600"/>
<path class="t" d="M500,434 L504,433 M512,432.500 L520,432"/>
<path d="M521.500,432 L534,431.600" fill="none" stroke="#111" stroke-width="4.600"/>
<path d="M522.500,431.800 L533,431.500" fill="none" stroke="#fff" stroke-width="1.400"/>
<path class="o" d="M534.500,427 L541,426.500 L543.300,430 L543,434 L541,437 L534.500,437 Z" stroke-width="2.400"/>
<path class="k2" d="M538,427 L538,437"/>
<!-- right end flange / ring clamp 7 -->
<path class="o" d="M822,383.500 C818,385 816.500,392 818,399 C819.500,405 822.500,409.500 826,408.500 L829.500,407.500 C826,406 824,401 823.500,395.500 C823,390 824,385.500 826,383.500 Z"/>
<path class="k2" d="M822,383.500 C818,385 816.500,392 818,399 C819.500,405 822.500,409.500 826,408.500"/>
<path class="n" d="M826,383.500 C830,384.500 833,388 834,392 M829.500,407.500 C832,406.500 834,404 835,401"/>
<path class="k2" d="M838,390 C834.500,389 831.500,392 831.500,397 C831.500,402 834,405.500 837.500,404.500"/>
<path class="n" d="M838,390 C836,393 836,401 837.500,404.500"/>
<path class="k2" d="M852.500,396 C852.500,388 850,379.500 845.500,379.500 C841.500,379.500 839.500,385 840,392 C840.500,398 843,403.500 847,404"/>
<path class="n" d="M849,397 C849,391 847.500,385 845.500,385 C843.500,385 843,389 843.500,393.500 C844,397.500 845.500,401 847.500,401.500"/>
<path class="n" d="M852.500,396 C853,399 853,402 852.500,404.500 M849,404 L855,402.500 L855.500,407 L850,408 Z"/>
<path class="t" d="M849,389 L863.500,385 M855,403 L864,400.500"/>
<!-- bolt 9 / washer 8 on right -->
<circle class="o" cx="804.300" cy="431" r="5" stroke-width="2.400"/>
<path class="b" d="M799.500,432 L809,430.300 C809,434 807,436 804.300,436 C801.500,436 799.500,434.500 799.500,432 Z"/>
<path d="M811,429.700 L821.500,427" fill="none" stroke="#111" stroke-width="3.600" stroke-linecap="round"/>
<path d="M812,429.400 L820.500,427.200" fill="none" stroke="#fff" stroke-width="1" />
<ellipse class="o" cx="834.600" cy="424.300" rx="3.700" ry="4.400" stroke-width="3"/>
<path class="t" d="M824,427.500 L829.500,426"/>
<path class="t" d="M839.500,423.600 L841.800,423 L840.500,408 L850,404.500" stroke-dasharray="5 2"/>

<!-- 30_right -->
<!-- axis line 16..14 -->
<path class="t" d="M540.700,162 L540.700,170 M541,176 L541,181 M543.500,230 L545.300,246.500 M546,253 L547,262 M564,396 L565.300,409 M568,420.500 L570,430"/>
<!-- ring 16 -->
<ellipse class="n" cx="541" cy="172.300" rx="10" ry="4" stroke-width="3"/>

<!-- fitting 15 -->
<path class="o" d="M535.500,181.500 L535.500,191 L548,191 L548,181.500 C546,179.300 537.500,179.300 535.500,181.500 Z" stroke-width="2.200"/>
<path class="k2" d="M536,184 L547.500,183.500 M536,186.800 L547.500,186.300 M536,189.500 L547.500,189" stroke-width="1.600"/>
<path class="b" d="M544.500,181 L548.500,181.500 L548.500,191 L544.500,191 Z"/>
<ellipse class="o" cx="541.700" cy="181.300" rx="4.200" ry="1.500" stroke-width="1.400"/>
<path class="o" d="M532,192.500 L536,189.500 L549.500,189.500 L553.300,192.500 L553.300,199.500 L549,202.500 L536.500,202.500 L532,199.500 Z" stroke-width="2.200"/>
<path class="b" d="M548,193.500 L553.300,192 L553.300,199.500 L549,202.500 L548,202.500 Z"/>
<path class="k2" d="M532.300,193 L532.300,199.500 L536.500,202.500"/>
<path class="n" d="M537.500,195.800 L537.500,202.500 M532.500,193 L537.500,195.800 L548,195.200" stroke-width="1.500"/>
<path class="o" d="M535.300,203 L535.500,226 L551.800,225 L552,203 Z"/>
<path class="k" d="M550.300,203.500 L550.100,223" stroke-width="3.800"/>
<path class="k" d="M536.300,203.500 L536.500,224.500" stroke-width="2.800"/>
<path class="o" d="M534,226.500 C534,224.500 540,223.500 546,223.500 C551,223.500 555.300,224 555.300,225.500 C555.300,228.300 549,229.800 543,229.800 C538,229.800 534,228.500 534,226.500 Z" stroke-width="2.200"/>
<path class="k" d="M552.500,222.800 C554.800,223.800 555.500,225.300 554.800,226.800"/>
<!-- clamp 10 (middle) axis -->
<path class="t" d="M575.700,498 L577.500,507"/>
<path class="t" d="M580,615 L577.500,624 M570,634.500 L565.500,643"/>

<!-- 40_clamps -->
<!-- clamp 1 left -->
<g transform="translate(334 340.5) rotate(18)">
<path class="n" d="M-19.5,0 A19.5,7 0 0 1 -2.34,-6.94942 M3.744,-6.86976 A19.5,7 0 0 1 19.5,0"/>
<path class="o" d="M-19.5,0 A19.5,7 0 0 0 19.5,0 L19.5,10 A19.5,7 0 0 1 -19.5,10 Z"/>
<path class="t" d="M-12.5554,4.64403 A19.5,7 0 0 1 12.5554,4.64403"/>
<path class="b" d="M-19.5,0 A19.5,7 0 0 0 -14.04,4.85782 L-14.04,14.8578 A19.5,7 0 0 1 -19.5,10 Z"/>
<path class="k2" d="M-19.5,10 A19.5,7 0 0 0 19.5,10"/>
<path class="o" stroke-width="2.200" d="M10.725,5.34615 L21.725,2.34615 L22.525,11.3462 L11.525,14.8462 Z"/>
<path class="b" d="M12.045,7.34615 L16.225,5.84615 L16.775,12.3462 L12.705,13.6462 Z"/>
<path class="k2" d="M18.645,6.34615 L19.085,11.3462"/>
</g>
<!-- clamp 1 right -->
<g transform="translate(472.3 325.5) rotate(0)">
<path class="n" d="M-20,0 A20,7.5 0 0 1 -2.4,-7.4458 M3.84,-7.36046 A20,7.5 0 0 1 20,0"/>
<path class="o" d="M-20,0 A20,7.5 0 0 0 20,0 L20,8.5 A20,7.5 0 0 1 -20,8.5 Z"/>
<path class="t" d="M-15.1606,3.60836 A20,7.5 0 0 1 15.1606,3.60836"/>
<path class="b" d="M-20,0 A20,7.5 0 0 0 -14.4,5.20481 L-14.4,13.7048 A20,7.5 0 0 1 -20,8.5 Z"/>
<path class="k2" d="M-20,8.5 A20,7.5 0 0 0 20,8.5"/>
<path class="o" stroke-width="2.200" d="M11,5.76373 L22,2.76373 L22.8,11.7637 L11.8,15.2637 Z"/>
<path class="b" d="M12.32,7.76373 L16.5,6.26373 L17.05,12.7637 L12.98,14.0637 Z"/>
<path class="k2" d="M18.92,6.76373 L19.36,11.7637"/>
</g>
<!-- clamp 10 top -->
<g transform="translate(546 241) rotate(0)">
<path class="n" d="M-16,0 A16,5.5 0 0 1 -1.92,-5.46026 M3.072,-5.39767 A16,5.5 0 0 1 16,0"/>
<path class="o" d="M-16,0 A16,5.5 0 0 0 16,0 L16,9.5 A16,5.5 0 0 1 -16,9.5 Z"/>
<path class="t" d="M-7.42058,4.62729 A16,5.5 0 0 1 7.42058,4.62729"/>
<path class="b" d="M16,0 A16,5.5 0 0 1 11.52,3.81686 L11.52,13.3169 A16,5.5 0 0 0 16,9.5 Z"/>
<path class="k2" d="M-16,9.5 A16,5.5 0 0 0 16,9.5"/>
<path class="o" stroke-width="2.200" d="M-19.6,-0.5 L-11.6,-1.5 L-11.1,10.5 L-18.8,12.5 Z"/>
<path class="k2" d="M-19.3,0 L-18.6,12"/>
<path class="b" d="M-17.84,2.5 L-13.2,2 L-12.8,10 L-17.36,10.5 Z"/>
<path d="M-15.6,4.5 L-15.2,8" fill="none" stroke="#fff" stroke-width="0.5"/>
</g>
<!-- clamp 10 below 14 -->
<g transform="translate(564.5 403) rotate(-5)">
<path class="n" d="M-17,0 A17,6 0 0 1 -2.04,-5.95664 M3.264,-5.88837 A17,6 0 0 1 17,0"/>
<path class="o" d="M-17,0 A17,6 0 0 0 17,0 L17,9.5 A17,6 0 0 1 -17,9.5 Z"/>
<path class="t" d="M-9.55531,4.53749 A17,6 0 0 1 9.55531,4.53749"/>
<path class="b" d="M17,0 A17,6 0 0 1 12.24,4.16384 L12.24,13.6638 A17,6 0 0 0 17,9.5 Z"/>
<path class="k2" d="M-17,9.5 A17,6 0 0 0 17,9.5"/>
<path class="o" stroke-width="2.200" d="M-20.825,-0.5 L-12.325,-1.5 L-11.825,10 L-20.025,12 Z"/>
<path class="k2" d="M-20.525,0 L-19.825,11.5"/>
<path class="b" d="M-18.955,2.5 L-14.025,2 L-13.6,9.5 L-18.445,10 Z"/>
<path d="M-16.575,4.5 L-16.15,7.5" fill="none" stroke="#fff" stroke-width="0.5"/>
</g>
<!-- clamp 10 bottom -->
<g transform="translate(577 622) rotate(24)">
<path class="n" d="M-14,0 A14,5 0 0 1 -1.68,-4.96387 M2.688,-4.90697 A14,5 0 0 1 14,0"/>
<path class="o" d="M-14,0 A14,5 0 0 0 14,0 L14,8 A14,5 0 0 1 -14,8 Z"/>
<path class="t" d="M-7.728,3.83078 A14,5 0 0 1 7.728,3.83078"/>
<path class="b" d="M-14,0 A14,5 0 0 0 -10.08,3.46987 L-10.08,11.4699 A14,5 0 0 1 -14,8 Z"/>
<path class="k2" d="M-14,8 A14,5 0 0 0 14,8"/>
<path class="o" stroke-width="2.200" d="M7.7,3.67582 L15.7,0.675823 L16.5,8.17582 L8.5,11.6758 Z"/>
<path class="b" d="M8.66,5.67582 L11.7,4.17582 L12.1,9.17582 L9.14,10.4758 Z"/>
<path class="k2" d="M13.46,4.67582 L13.78,8.17582"/>
</g>
<!-- clamp 6 -->
<g transform="translate(397.5 515.3) rotate(0)">
<path class="n" d="M-9,0 A9,3.3 0 0 1 -1.08,-3.27615 M1.728,-3.2386 A9,3.3 0 0 1 9,0"/>
<path class="o" d="M-9,0 A9,3.3 0 0 0 9,0 L9,9 A9,3.3 0 0 1 -9,9 Z"/>
<path class="b" d="M-9,0 A9,3.3 0 0 0 -6.48,2.29011 L-6.48,11.2901 A9,3.3 0 0 1 -9,9 Z"/>
<path class="k2" d="M-9,9 A9,3.3 0 0 0 9,9"/>
<path class="o" stroke-width="2.200" d="M4.95,2.25604 L11.95,-0.743957 L12.75,9.25604 L5.75,12.756 Z"/>
<path class="b" d="M5.79,4.25604 L8.45,2.75604 L8.8,10.256 L6.21,11.556 Z"/>
<path class="k2" d="M9.99,3.25604 L10.27,9.25604"/>
</g>
<!-- clamp 10 mid -->
<g transform="translate(580.3 512) rotate(-10)">
<path class="n" d="M-12.4,0 A12.4,4.7 0 0 1 -1.488,-4.66604 M2.3808,-4.61256 A12.4,4.7 0 0 1 12.4,0"/>
<path class="o" d="M-12.4,0 A12.4,4.7 0 0 0 12.4,0 L12.4,7.5 A12.4,4.7 0 0 1 -12.4,7.5 Z"/>
<path class="t" d="M-6.87704,3.58905 A12.4,4.7 0 0 1 6.87704,3.58905"/>
<path class="b" d="M-12.4,0 A12.4,4.7 0 0 0 -8.928,3.26168 L-8.928,10.7617 A12.4,4.7 0 0 1 -12.4,7.5 Z"/>
<path class="k2" d="M-12.4,7.5 A12.4,4.7 0 0 0 12.4,7.5"/>
</g>
<path class="b" d="M583.500,507.500 L586,503.800 L590,503 L592.800,506 L593.800,511 L592,515.500 L588.500,511.500 Z"/><path d="M586.500,506.500 L590,510.500" fill="none" stroke="#fff" stroke-width="0.900"/>
<path class="t" d="M581.800,516.500 L582.600,524.500"/>

<!-- 60_watermark -->
<defs>
<g id="wmA">
<path fill-rule="evenodd" d="M290.500,408.500 C300,408.500 309,412 316,418 C309,427 306,437 306,448 C306,459 309,469 316,478 C309,484 300,487.500 290.500,487.500 C268.700,487.500 251,469.800 251,448 C251,426.200 268.700,408.500 290.500,408.500 Z M288,438 C282.500,438 278,442.500 278,448 C278,453.500 282.500,458 288,458 C293.500,458 298,453.500 298,448 C298,442.500 293.500,438 288,438 Z"/>
<path d="M320,421 C326,428 330,438 330,448 C330,458 326,468 320,475 C314,467 311,458 311,448 C311,438 314,429 320,421 Z"/>
<path d="M339,421 L381,421 L381,434 L353,434 L353,443 L377,443 L377,456 L353,456 L353,476 L339,476 Z"/>
<path d="M436,440 C432.500,428 423,420.500 411,420.500 C395,420.500 384,432 384,448.500 C384,465 395,476.500 411,476.500 C423,476.500 432.500,469 436,457 L422,454 C420,460 416,463.500 411,463.500 C403.500,463.500 398.500,457.500 398.500,448.500 C398.500,439.500 403.500,433.500 411,433.500 C416,433.500 420,437 422,443 Z"/>
<path fill-rule="evenodd" d="M441,421 L466,421 C478,421 485.500,428.500 485.500,441 C485.500,453.500 478,461 466,461 L455,461 L455,476 L441,476 Z M455,433.500 L455,448.500 L464,448.500 C469,448.500 471.500,446 471.500,441 C471.500,436 469,433.500 464,433.500 Z"/>
</g>
</defs>
<filter id="wmsh" x="-10%" y="-10%" width="120%" height="120%"><feGaussianBlur stdDeviation="1.100"/></filter>
<use href="#wmA" transform="translate(0.6,0.6)" fill="none" stroke="#b8b8b8" stroke-width="1.500" filter="url(#wmsh)"/>
<use href="#wmA" fill="#fff" fill-opacity="0.500" stroke="#f6f6f6" stroke-width="0.800"/>
<defs><g id="wmE">
<path d="M537,438.300 L512.500,438.300 L512.500,472.300 L537,472.300 M512.500,455.300 L534,455.300"/>
<path d="M543.500,436.600 L543.500,460 C543.500,468 548.500,472.500 556.500,472.500 C564.500,472.500 569.500,468 569.500,460 L569.500,436.600"/>
<path d="M578,474 L578,438.300 L594,438.300 C600,438.300 603,441.500 603,447 C603,452.500 600,456 594,456 L578,456 M592,456 L604,474"/>
<ellipse cx="626.300" cy="455.300" rx="17.800" ry="17"/>
</g></defs>
<g fill="none" stroke-linecap="butt" stroke-linejoin="miter">
<use href="#wmE" transform="translate(0.5,0.5)" stroke="#b4b4b4" stroke-width="4.600" filter="url(#wmsh)"/>
<use href="#wmE" stroke="#fff" stroke-width="3.600" stroke-opacity="0.850"/>
</g>
<circle cx="498.200" cy="423.300" r="4.300" fill="#fff" fill-opacity="0.800" stroke="#d8d8d8" stroke-width="1"/>
<text x="495.800" y="425.600" font-family="Liberation Sans, sans-serif" font-size="6.500" fill="#c8c8c8">R</text>

<!-- 70_leaders -->
<g class="l">
<path d="M552,172.500 L651,165.300"/>
<path d="M547,220.500 L651,221.500"/>
<path d="M553,250 C580,256 610,266 630,272.500 C634,274 640,274.500 651,274.500"/>
<path d="M557,330.500 L651,331.200"/>
<path d="M656.700,395.500 L656.500,414"/>
<path d="M832,350.500 L832.300,361 L841,380"/>
<path d="M804,437 L803.700,460"/>
<path d="M835.400,431 L835.800,460"/>
<path d="M314.500,264 L351,264"/>
<path d="M260,324.400 L274.400,324.400 C285,326 300,331 318,336"/>
<path d="M424.500,323.300 L453,323.300"/>
<path d="M346.500,471 L394.500,471"/>
<path d="M413.300,519 L437.500,519"/>
<path d="M488,492.500 L507.500,436.500"/>
<path d="M529.300,492.500 L529,432"/>
<path d="M477,572 L477,566 C485,556 495,548 502,543"/>
<path d="M513,572 C514,555 518,540 524,531"/>
<path d="M547,572 L547,534"/>
<path d="M591,516.500 C605,520 620,525 632.400,527.600 L651,527.600"/>
<path d="M592,565.600 C605,572 618,579 631.600,582.700 L645,582.700"/>
<path d="M587,636.400 L648.500,637.800"/>
<path d="M66.800,627 C67,610 72,596 76,583"/>
<path d="M67.300,648 C68,665 74,685 77.500,700"/>
<path d="M157.200,627 L157,567"/>
<path d="M141.300,735 L141.300,703"/>
<path d="M320.800,671 L320.600,627"/>
</g>
<g><circle class="b" r="1.5" cx="157" cy="567"/><circle class="b" r="1.5" cx="141" cy="703"/><circle class="b" r="1.5" cx="320.600" cy="627"/><circle class="b" r="1.5" cx="351.500" cy="264"/><circle class="b" r="1.5" cx="656.5" cy="414.5"/><circle class="b" r="1.5" cx="394.500" cy="471"/><circle class="b" r="1.5" cx="557" cy="330.500"/><circle class="b" r="1.5" cx="547" cy="220.5"/><circle class="b" r="1.5" cx="592" cy="565.6"/><circle class="b" r="1.5" cx="553" cy="250"/><circle class="b" r="1.5" cx="76" cy="583.5"/><circle class="b" r="1.5" cx="77.3" cy="700.5"/></g>

<!-- 80_labels -->
<g class="lb">
<text x="660.8" y="171.6" letter-spacing="-1.7" dx="-0.6">16</text>
<text x="661.2" y="228.1" letter-spacing="-1.7" dx="-0.6">15</text>
<text x="660.1" y="281.6" letter-spacing="-1.7" dx="-0.6">10</text>
<text x="660.8" y="337.7" letter-spacing="-1.7" dx="-0.6">14</text>
<text x="660.2" y="393.4" letter-spacing="-1.7" dx="-0.6">13</text>
<text x="833.1" y="348.5">7</text>
<text x="804.2" y="474.5">9</text>
<text x="836.4" y="474.8">8</text>
<text x="306.2" y="269.9" letter-spacing="-1.7" dx="-0.6">17</text>
<text x="255.5" y="331.0">1</text>
<text x="419.8" y="329.4">1</text>
<text x="339.1" y="477.1">5</text>
<text x="446.0" y="525.1">6</text>
<text x="488.0" y="507.1">8</text>
<text x="530.8" y="507.1" letter-spacing="-1.7" dx="-0.6">12</text>
<text x="476.5" y="587.5">7</text>
<text x="513.4" y="587.5">8</text>
<text x="547.0" y="587.5">9</text>
<text x="660.4" y="532.8" letter-spacing="-1.7" dx="-0.6">10</text>
<text x="653.1" y="588.9" letter-spacing="-1.7" dx="-0.6">11</text>
<text x="658.0" y="643.9" letter-spacing="-1.7" dx="-0.6">10</text>
<text x="66.8" y="643.4">1</text>
<text x="157.5" y="643.4">2</text>
<text x="141.5" y="751.3">3</text>
<text x="319.8" y="687.3">4</text>
</g>
<text x="828.4" y="757.6" font-family="Liberation Sans, sans-serif" font-size="13.3" fill="#2a2a2a" textLength="59.2" lengthAdjust="spacingAndGlyphs">00000295</text>
<text x="41.500" y="741" font-family="Liberation Sans, sans-serif" font-size="16.500" fill="#111" stroke="#111" stroke-width="0.900" textLength="70.500" lengthAdjust="spacingAndGlyphs">© BMW AG</text>

</g>
</svg>
</body></html>
